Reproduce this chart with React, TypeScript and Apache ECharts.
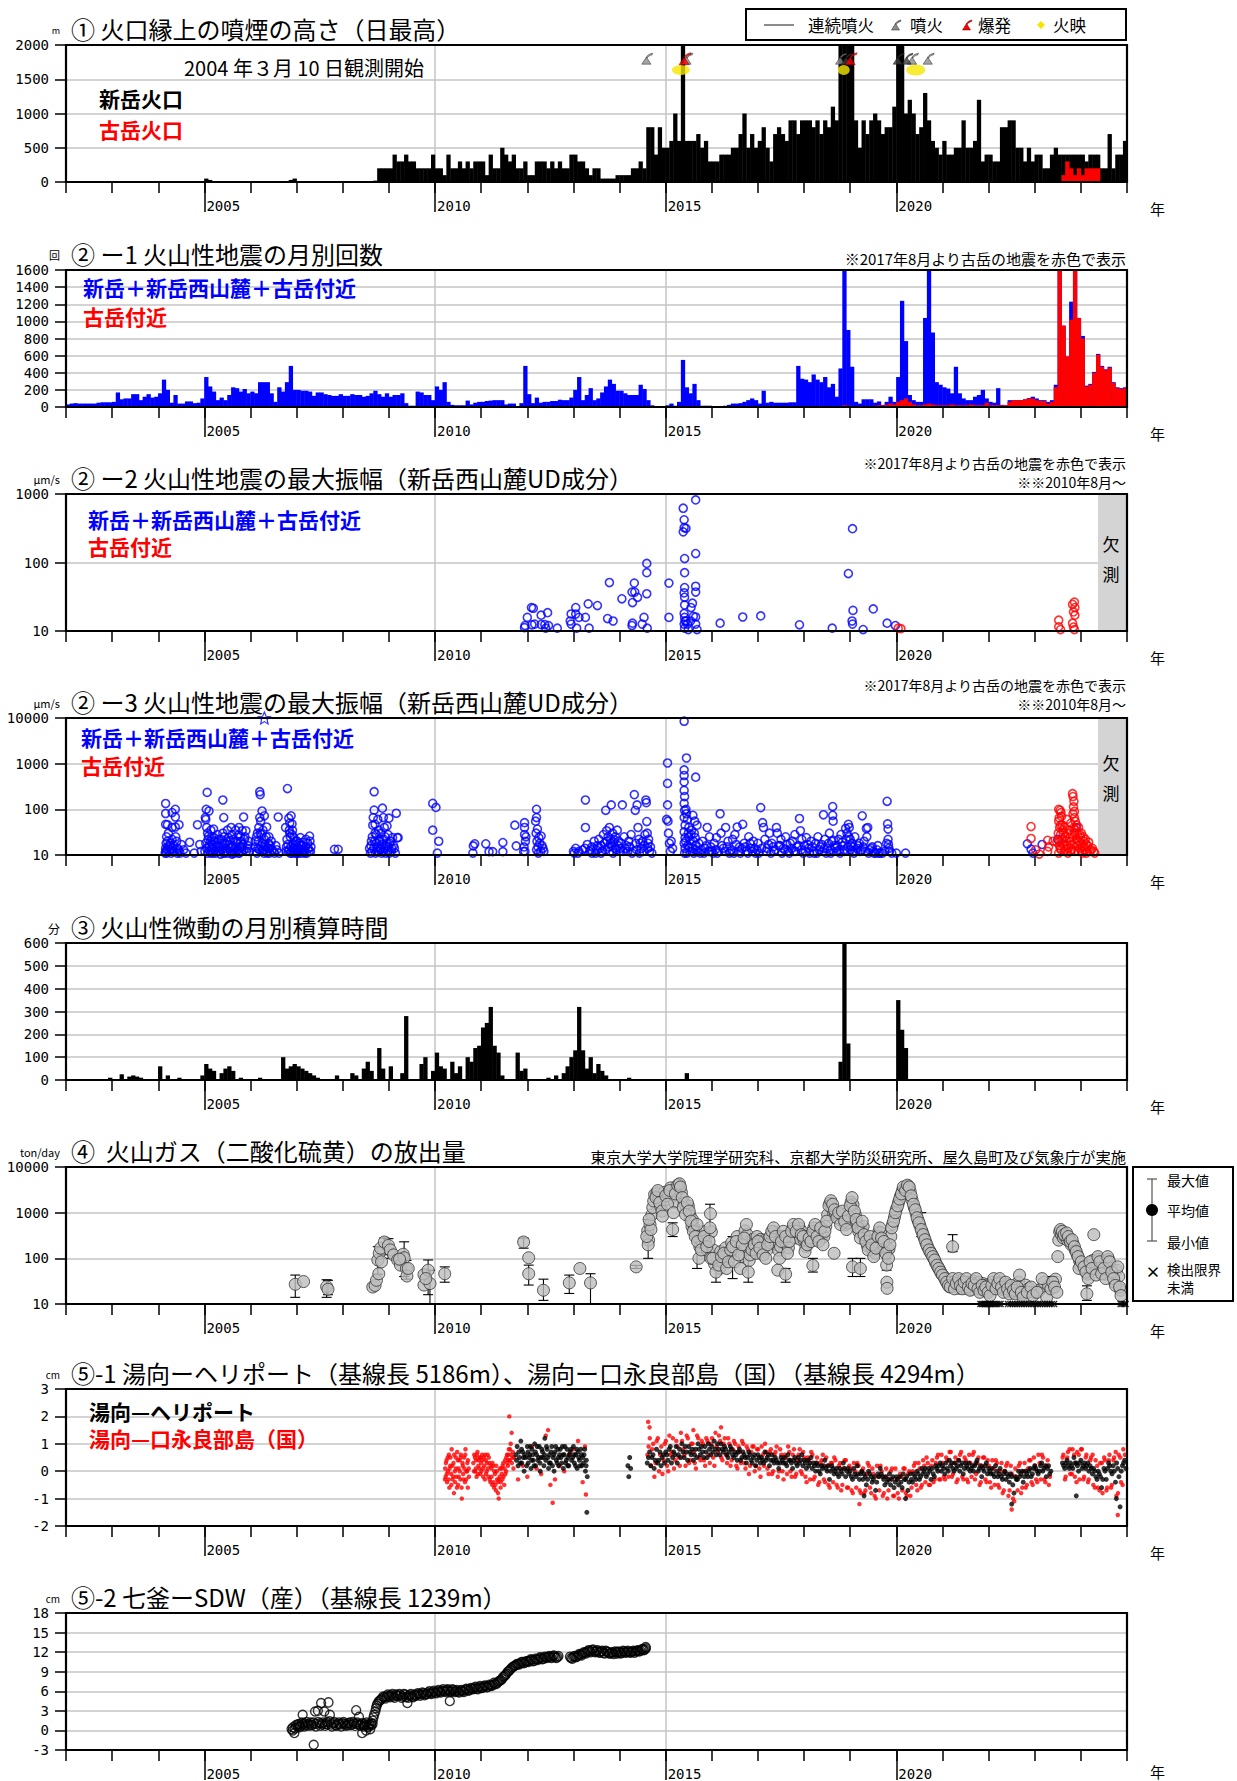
import React, { useEffect, useRef } from "react";
import * as echarts from "echarts";

const JP = '"Noto Sans CJK JP", "Noto Sans", sans-serif';
const MONO = '"DejaVu Sans Mono", monospace';

const YEAR_MIN = 2002;
const YEAR_MAX = 2025;
const LABEL_YEARS = [2005, 2010, 2015, 2020];

// ① plume height above the crater rim (m), monthly maximum
const plumeEarly: [number, number, number][] = [[2005, 1, 50], [2005, 2, 30], [2006, 11, 30], [2006, 12, 50]];
// from 2008-09
const plumeShindakeA = [
  20, 200, 200, 200,
  200, 400, 300, 300, 400, 300, 300, 200, 200, 200, 200, 400,
  200, 200, 100, 400, 200, 200, 300, 200, 300, 200, 300, 300,
  300, 100, 400, 200, 200, 500, 400, 300, 400, 200, 200, 300,
  100, 100, 300, 300, 300, 200, 300, 200, 300, 200, 200, 400,
  400, 300, 300, 200, 100, 200, 200, 50, 50, 50, 50, 100,
];
// from 2014-01
const plumeShindakeB = [
  100, 100, 100, 200, 200, 300, 200, 800, 800, 400, 800, 500,
  500, 600, 1000, 600, 2000, 600, 600, 600, 700, 500, 600, 300,
  300, 300, 400, 400, 400, 500, 500, 700, 1000, 500, 700, 500,
  600, 800, 500, 300, 700, 800, 700, 600, 900, 900, 700, 900,
  900, 900, 800, 900, 700, 900, 800, 1100, 900, 2000, 2000, 2000,
  2000, 900, 500, 900, 700, 900, 1000, 900, 700, 800, 800, 1100,
  2000, 2000, 1000, 1200, 1000, 700, 800, 1300, 900, 600, 500, 400,
  600, 400, 400, 500, 500, 900, 500, 500, 600, 1200, 300, 400,
  400, 300, 300, 800, 800, 900, 900, 500, 500, 300, 500, 300,
  400, 400, 200, 200, 400, 500, 400, 400, 400, 400, 400, 400,
  400, 300, 400, 400, 400, 200, 200, 700, 200, 400, 400, 600,
];
// Furudake crater, from 2023-08
const plumeFurudake = [100, 300, 200, 100, 200, 100, 200, 200, 200, 200, 10, 10, 10, 10, 10, 10, 10];
const eruptionMarks = [[2014.6, 1800], [2015.47, 1800], [2018.8, 1800], [2020.36, 1800], [2020.7, 1800]];
const eruptionMarksDark = [[2018.93, 1800], [2020.05, 1800], [2020.24, 1800]];
const explosionMarks = [[2015.42, 1800], [2019.02, 1800]];
const glowMarks = [[2015.33, 1635, 18, 10], [2018.86, 1635, 12, 10], [2020.42, 1635, 19, 11]];

// ②-1 monthly number of volcanic earthquakes
const quakeTotal2002to2009 = [
  30, 40, 45, 40, 40, 40, 40, 40, 50, 55, 55, 55,
  60, 170, 90, 100, 100, 150, 150, 80, 120, 150, 110, 120,
  160, 320, 200, 50, 140, 40, 40, 65, 65, 45, 50, 100,
  350, 240, 180, 80, 110, 80, 140, 230, 220, 180, 210, 160,
  180, 160, 290, 290, 290, 160, 60, 230, 180, 290, 480, 200,
  200, 190, 190, 180, 130, 170, 170, 150, 140, 130, 130, 150,
  130, 130, 150, 140, 140, 120, 130, 160, 190, 150, 120, 160,
  120, 140, 140, 160, 45, 15, 15, 180, 170, 140, 140, 80,
];
const quakeTotal2010to2017 = [
  240, 200, 290, 60, 25, 20, 20, 20, 75, 30, 50, 60,
  60, 70, 75, 80, 80, 80, 30, 40, 40, 10, 45, 480,
  150, 45, 110, 50, 60, 60, 70, 70, 85, 80, 80, 110,
  200, 350, 80, 140, 220, 80, 100, 170, 240, 320, 270, 190,
  190, 160, 140, 140, 140, 260, 210, 80, 20, 10, 10, 10,
  20, 40, 15, 60, 550, 230, 160, 270, 80, 15, 15, 15,
  10, 10, 10, 15, 25, 40, 40, 45, 60, 80, 100, 80,
  40, 190, 50, 60, 50, 50, 50, 50, 55, 55, 480, 330,
];
const quakeTotal2018to2024 = [
  320, 290, 380, 320, 290, 350, 230, 270, 120, 450, 1700, 900,
  470, 60, 40, 90, 90, 90, 50, 65, 25, 60, 120, 60,
  350, 1240, 770, 140, 80, 60, 60, 1040, 1700, 870, 290, 260,
  230, 215, 160, 470, 160, 100, 80, 80, 120, 140, 200, 100,
  60, 50, 220, 25, 20, 80, 80, 80, 80, 90, 105, 120,
  100, 80, 80, 60, 80, 260, 1700, 950, 590, 1230, 1700, 1040,
  830, 250, 270, 410, 620, 480, 440, 470, 290, 230, 220, 230,
];
// Furudake area, from 2017-08
const quakeFurudake = [
  5, 5, 5, 5, 10,
  10, 10, 10, 10, 10, 10, 10, 10, 10, 10, 20, 15,
  10, 10, 10, 10, 10, 10, 15, 20, 20, 25, 40, 30,
  60, 80, 100, 60, 30, 20, 20, 30, 40, 30, 20, 20,
  20, 20, 30, 20, 20, 20, 20, 30, 20, 20, 20, 50,
  20, 20, 20, 20, 20, 60, 80, 80, 80, 90, 100, 100,
  80, 70, 70, 40, 60, 230, 1700, 950, 590, 1020, 1700, 1040,
  800, 240, 260, 400, 610, 470, 430, 460, 280, 220, 210, 220,
];

// ②-2 maximum amplitude (μm/s), since 2010-08
const amp2Shindake = [
  [2011.94, 11.2], [2011.95, 12], [2012.0, 15.8], [2012.09, 22], [2012.13, 21.5], [2012.1, 12.3], [2012.16, 12.6],
  [2012.3, 17], [2012.3, 12.4], [2012.38, 12.4], [2012.44, 18.5], [2012.4, 11], [2012.46, 12], [2012.65, 11],
  [2012.95, 17.7], [2012.95, 12.6], [2012.93, 14], [2013.05, 22], [2013.05, 17.7], [2013.07, 11], [2013.12, 15.8],
  [2013.26, 15.8], [2013.32, 24.9], [2013.34, 11], [2013.52, 23.5], [2013.74, 15.2], [2013.78, 51], [2013.86, 14],
  [2014.05, 29.5], [2014.28, 26], [2014.27, 37], [2014.32, 50], [2014.33, 37], [2014.39, 31], [2014.28, 13],
  [2014.27, 12], [2014.49, 12.6], [2014.53, 15.8], [2014.59, 97], [2014.59, 71], [2014.59, 35], [2014.6, 11],
  [2015.07, 50], [2015.07, 15.8], [2015.38, 620], [2015.4, 420], [2015.4, 323], [2015.44, 315], [2015.38, 280],
  [2015.41, 114], [2015.41, 71], [2015.41, 43], [2015.4, 36], [2015.41, 31], [2015.41, 24], [2015.4, 18],
  [2015.41, 15.8], [2015.42, 14], [2015.4, 12.6], [2015.41, 11], [2015.44, 14], [2015.47, 12.6], [2015.49, 10.5],
  [2015.55, 22], [2015.58, 25.5], [2015.65, 820], [2015.65, 135], [2015.65, 45], [2015.65, 37], [2015.65, 16],
  [2015.65, 12.6], [2015.68, 10.5], [2015.6, 16.4], [2015.54, 14], [2016.18, 13], [2016.67, 16], [2017.06, 16.6],
  [2017.9, 12.3], [2018.61, 11], [2018.96, 69], [2019.05, 312], [2019.06, 20], [2019.04, 14], [2019.05, 12.6],
  [2019.28, 10.5], [2019.5, 21], [2019.8, 13], [2019.98, 12],
];
const amp2Furudake = [
  [2020.04, 11], [2020.1, 10.8], [2023.52, 14.4], [2023.52, 11.5], [2023.56, 10.5], [2023.82, 24.5], [2023.86, 26.4],
  [2023.87, 22], [2023.84, 19], [2023.87, 17], [2023.82, 13], [2023.84, 11.4], [2023.86, 10.5],
];

// ②-3 maximum amplitude (μm/s), whole period
const amp3Shindake = [
  [2004.16, 134], [2004.16, 81], [2004.16, 47], [2004.2, 46], [2004.18, 25], [2004.17, 18], [2004.16, 14], [2004.16, 12],
  [2004.18, 11], [2004.2, 20], [2004.22, 30], [2004.25, 16], [2004.27, 13], [2004.3, 85], [2004.3, 40], [2004.3, 22],
  [2004.32, 12], [2004.37, 100], [2004.37, 68], [2004.37, 41], [2004.4, 20], [2004.42, 14], [2004.45, 46], [2004.5, 17],
  [2004.55, 13], [2004.6, 11], [2004.68, 19], [2004.78, 11], [2004.85, 46], [2004.9, 17], [2004.93, 12],
  [2005.03, 60], [2005.06, 235], [2005.04, 100], [2005.1, 92], [2005.02, 66], [2005.05, 40], [2005.07, 30], [2005.08, 22],
  [2005.1, 16], [2005.12, 12], [2005.14, 35], [2005.16, 25], [2005.18, 14], [2005.2, 37], [2005.22, 20], [2005.25, 11],
  [2005.28, 28], [2005.3, 16], [2005.33, 12], [2005.36, 22], [2005.4, 160], [2005.42, 66], [2005.4, 30], [2005.45, 18],
  [2005.48, 12], [2005.5, 35], [2005.52, 24], [2005.55, 14], [2005.58, 40], [2005.6, 28], [2005.62, 16], [2005.65, 11],
  [2005.68, 35], [2005.7, 20], [2005.72, 13], [2005.75, 40], [2005.78, 25], [2005.8, 15], [2005.82, 34], [2005.85, 68],
  [2005.87, 22], [2005.9, 34], [2005.93, 14], [2005.96, 20], [2005.14, 11], [2005.26, 15], [2005.35, 10.5],
  [2005.44, 11], [2005.6, 10.5], [2005.76, 11],
  [2006.1, 20], [2006.15, 30], [2006.2, 243], [2006.21, 210], [2006.25, 92], [2006.2, 66], [2006.3, 72], [2006.35, 41],
  [2006.18, 40], [2006.22, 55], [2006.24, 28], [2006.26, 18], [2006.28, 13], [2006.3, 22], [2006.33, 15], [2006.36, 11],
  [2006.4, 25], [2006.42, 14], [2006.45, 20], [2006.5, 12], [2006.55, 16], [2006.6, 68], [2006.62, 11], [2006.12, 12],
  [2006.16, 14],
  [2006.76, 40], [2006.8, 285], [2006.83, 64], [2006.85, 50], [2006.84, 35], [2006.86, 25], [2006.88, 72], [2006.9, 48],
  [2006.9, 28], [2006.92, 18], [2006.94, 24], [2006.96, 13], [2006.98, 20], [2007.0, 15], [2007.02, 11], [2007.05, 18],
  [2007.08, 24], [2007.1, 13], [2007.12, 16], [2007.15, 12], [2007.2, 22], [2007.25, 14], [2007.28, 26], [2007.29, 20],
  [2007.3, 12], [2006.78, 15], [2006.82, 12], [2006.86, 11], [2006.92, 12], [2007.0, 11], [2007.18, 11],
  [2007.82, 13.3], [2007.9, 13.3],
  [2008.58, 14], [2008.62, 20], [2008.65, 45], [2008.68, 243], [2008.68, 96], [2008.66, 66], [2008.7, 47], [2008.7, 30],
  [2008.72, 18], [2008.74, 12], [2008.76, 60], [2008.78, 35], [2008.8, 22], [2008.82, 14], [2008.86, 106], [2008.88, 66],
  [2008.9, 40], [2008.92, 25], [2008.94, 16], [2008.96, 43], [2008.98, 28], [2009.0, 64], [2009.02, 18], [2009.05, 12],
  [2009.08, 24], [2009.12, 14], [2009.16, 82], [2009.18, 24], [2009.2, 24], [2008.6, 11], [2008.84, 11],
  [2009.95, 135], [2010.02, 110], [2009.95, 35], [2010.08, 20], [2010.05, 11],
  [2010.83, 15.8], [2010.86, 17.6], [2011.1, 17.6], [2011.17, 11.8], [2011.25, 11.8], [2011.47, 18.7], [2011.47, 11.8],
  [2010.82, 11],
  [2011.73, 45], [2011.76, 15.8], [2011.94, 51], [2011.94, 40], [2011.94, 28], [2011.96, 20], [2011.93, 15], [2011.95, 12],
  [2012.2, 100], [2012.2, 66], [2012.18, 55], [2012.22, 37], [2012.25, 24], [2012.3, 26], [2012.32, 16], [2012.36, 12],
  [2012.2, 13], [2012.24, 11],
  [2013.26, 160], [2013.26, 40], [2013.0, 12], [2013.05, 14], [2013.1, 11], [2013.2, 13], [2013.3, 17], [2013.35, 12],
  [2013.4, 15], [2013.45, 20], [2013.5, 13], [2013.55, 22], [2013.6, 16], [2013.65, 28], [2013.7, 95], [2013.72, 34],
  [2013.75, 25], [2013.78, 40], [2013.8, 18], [2013.82, 125], [2013.85, 30], [2013.88, 22], [2013.9, 14], [2013.95, 35],
  [2013.98, 20], [2013.6, 11], [2013.4, 11],
  [2014.06, 125], [2014.1, 25], [2014.15, 16], [2014.2, 20], [2014.25, 28], [2014.32, 210], [2014.34, 95], [2014.38, 125],
  [2014.4, 40], [2014.42, 22], [2014.45, 18], [2014.5, 20], [2014.55, 28], [2014.57, 160], [2014.58, 140], [2014.59, 54],
  [2014.6, 30], [2014.62, 18], [2014.65, 12], [2014.7, 11], [2014.02, 14], [2014.08, 12], [2014.3, 12],
  [2015.04, 1035], [2015.04, 370], [2015.04, 125], [2015.02, 60], [2015.05, 55], [2015.06, 30], [2015.08, 18],
  [2015.1, 12], [2015.12, 20], [2015.15, 14],
  [2015.4, 8500], [2015.45, 1330], [2015.4, 730], [2015.4, 550], [2015.4, 395], [2015.4, 260], [2015.41, 190],
  [2015.4, 135], [2015.41, 95], [2015.4, 66], [2015.42, 45], [2015.4, 32], [2015.42, 24], [2015.4, 18], [2015.42, 14],
  [2015.41, 11], [2015.65, 505], [2015.59, 74], [2015.63, 55], [2015.5, 40], [2015.55, 28], [2015.6, 20], [2015.48, 16],
  [2015.52, 12], [2015.58, 14], [2015.65, 16], [2015.7, 12], [2015.45, 80], [2015.47, 60], [2015.5, 25], [2015.56, 35],
  [2015.62, 30], [2015.68, 45], [2015.44, 100],
  [2015.8, 20], [2015.85, 14], [2015.9, 40], [2015.95, 25], [2016.0, 12], [2016.05, 18], [2016.1, 24], [2016.18, 80],
  [2016.2, 30], [2016.25, 14], [2016.3, 40], [2016.35, 20], [2016.4, 12], [2016.45, 22], [2016.5, 28], [2016.55, 41],
  [2016.6, 15], [2016.67, 47], [2016.7, 18], [2016.75, 12], [2016.8, 25], [2016.85, 14], [2016.9, 20], [2016.95, 11],
  [2017.0, 18], [2017.06, 109], [2017.1, 51], [2017.12, 40], [2017.15, 22], [2017.2, 14], [2017.25, 30], [2017.3, 18],
  [2017.35, 12], [2017.4, 40], [2017.42, 30], [2017.45, 16], [2017.5, 22], [2017.55, 14], [2017.6, 25], [2017.65, 12],
  [2017.7, 18], [2017.75, 20], [2017.8, 28], [2017.85, 15], [2017.9, 63], [2017.92, 34], [2017.95, 22], [2018.0, 16],
  [2018.05, 24], [2018.1, 14], [2018.15, 20], [2018.2, 12], [2018.25, 18], [2018.3, 25], [2018.35, 15], [2018.42, 76],
  [2018.45, 22], [2018.5, 14], [2018.55, 30], [2018.6, 20], [2018.62, 115], [2018.62, 74], [2018.63, 55], [2018.66, 16],
  [2018.7, 12], [2018.75, 22], [2018.8, 28], [2018.85, 16], [2018.9, 38], [2018.93, 30], [2018.96, 47], [2018.98, 40],
  [2019.0, 22], [2019.02, 16], [2019.05, 12], [2019.1, 25], [2019.15, 14], [2019.2, 18], [2019.26, 72], [2019.3, 20],
  [2019.35, 38], [2019.38, 40], [2019.45, 14], [2019.5, 12], [2019.6, 16], [2019.7, 11], [2019.8, 150], [2019.81, 48],
  [2019.82, 37], [2019.82, 22], [2019.83, 17], [2019.85, 12], [2019.9, 11], [2020.0, 11], [2020.2, 11],
  [2015.75, 11], [2015.95, 12], [2016.12, 11], [2016.38, 11], [2016.62, 11], [2016.88, 12], [2017.02, 11], [2017.28, 11],
  [2017.52, 11], [2017.68, 11], [2017.82, 12], [2017.98, 11], [2018.12, 11], [2018.28, 11], [2018.4, 12], [2018.48, 11],
  [2018.58, 11], [2018.78, 11], [2018.88, 12], [2019.08, 11], [2019.22, 12], [2019.4, 11], [2019.55, 11], [2019.65, 11],
  [2022.84, 17.6], [2022.92, 13.4], [2022.96, 11], [2023.16, 17], [2023.5, 22], [2023.9, 40],
];
// the crowded lower band of ②-3
const amp3ShindakeLow = [
  [2004.15, 11], [2004.19, 13], [2004.21, 15], [2004.23, 12], [2004.26, 18], [2004.28, 11], [2004.31, 14], [2004.33, 16],
  [2004.35, 12], [2004.38, 25], [2004.41, 11], [2004.44, 13], [2004.47, 11],
  [2005.01, 12], [2005.03, 18], [2005.05, 14], [2005.07, 11], [2005.09, 26], [2005.11, 15], [2005.13, 20], [2005.15, 13],
  [2005.17, 17], [2005.19, 11], [2005.21, 24], [2005.23, 13], [2005.27, 19], [2005.29, 12], [2005.31, 22], [2005.34, 15],
  [2005.37, 13], [2005.39, 18], [2005.41, 11], [2005.43, 25], [2005.46, 14], [2005.49, 20], [2005.51, 11], [2005.53, 17],
  [2005.56, 21], [2005.57, 12], [2005.59, 15], [2005.61, 11], [2005.63, 22], [2005.66, 14], [2005.69, 12], [2005.71, 18],
  [2005.73, 27], [2005.74, 11], [2005.77, 15], [2005.79, 20], [2005.81, 12], [2005.83, 17], [2005.86, 13], [2005.88, 25],
  [2005.91, 12], [2005.94, 16], [2005.97, 12],
  [2006.11, 15], [2006.13, 25], [2006.14, 11], [2006.17, 20], [2006.19, 13], [2006.21, 30], [2006.23, 16], [2006.25, 12],
  [2006.27, 35], [2006.29, 11], [2006.31, 17], [2006.32, 13], [2006.34, 25], [2006.37, 14], [2006.39, 18], [2006.41, 11],
  [2006.43, 16], [2006.47, 13], [2006.52, 11], [2006.57, 13],
  [2006.77, 12], [2006.79, 22], [2006.81, 17], [2006.83, 13], [2006.85, 30], [2006.87, 15], [2006.89, 11], [2006.91, 35],
  [2006.93, 14], [2006.95, 11], [2006.97, 17], [2006.99, 13], [2007.01, 20], [2007.03, 14], [2007.04, 11], [2007.06, 13],
  [2007.09, 16], [2007.11, 11], [2007.14, 19], [2007.16, 13], [2007.19, 15], [2007.22, 11], [2007.24, 18], [2007.27, 12],
  [2007.31, 15],
  [2008.61, 16], [2008.63, 12], [2008.64, 25], [2008.67, 14], [2008.69, 20], [2008.71, 11], [2008.73, 28], [2008.75, 15],
  [2008.77, 12], [2008.79, 20], [2008.81, 13], [2008.83, 30], [2008.85, 17], [2008.87, 12], [2008.89, 22], [2008.91, 14],
  [2008.93, 11], [2008.95, 18], [2008.97, 12], [2008.99, 15], [2009.01, 11], [2009.03, 20], [2009.06, 14], [2009.1, 16],
  [2009.14, 11],
  [2011.92, 12], [2011.97, 25], [2012.19, 30], [2012.21, 20], [2012.23, 15], [2012.27, 18], [2012.29, 12], [2012.34, 14],
  [2013.02, 11], [2013.12, 12], [2013.25, 14], [2013.38, 13], [2013.48, 11], [2013.52, 16], [2013.58, 14], [2013.62, 12],
  [2013.67, 18], [2013.69, 13], [2013.73, 20], [2013.77, 15], [2013.79, 12], [2013.81, 22], [2013.83, 16], [2013.86, 11],
  [2013.87, 19], [2013.91, 25], [2013.93, 13], [2013.97, 16], [2014.0, 12], [2014.04, 18], [2014.12, 14], [2014.18, 12],
  [2014.22, 15], [2014.27, 11], [2014.35, 18], [2014.37, 13], [2014.43, 11], [2014.47, 14], [2014.52, 12], [2014.54, 16],
  [2014.61, 14], [2014.63, 22], [2014.67, 15],
  [2015.43, 20], [2015.46, 11], [2015.49, 30], [2015.51, 15], [2015.53, 21], [2015.57, 12], [2015.61, 11], [2015.64, 24],
  [2015.66, 13], [2015.72, 18], [2015.78, 13], [2015.83, 11], [2015.88, 16], [2015.93, 12], [2015.98, 15], [2016.03, 11],
  [2016.08, 13], [2016.15, 12], [2016.22, 16], [2016.28, 12], [2016.33, 15], [2016.43, 13], [2016.48, 11], [2016.53, 17],
  [2016.58, 12], [2016.65, 14], [2016.73, 15], [2016.78, 11], [2016.83, 18], [2016.93, 14], [2016.98, 13], [2017.08, 14],
  [2017.18, 12], [2017.23, 17], [2017.33, 15], [2017.38, 13], [2017.48, 16], [2017.58, 13], [2017.63, 17], [2017.73, 14],
  [2017.78, 12], [2017.88, 16], [2017.94, 13], [2018.03, 12], [2018.08, 17], [2018.18, 15], [2018.22, 11], [2018.33, 13],
  [2018.38, 17], [2018.44, 14], [2018.53, 18], [2018.57, 13], [2018.64, 21], [2018.68, 14], [2018.72, 16], [2018.77, 13],
  [2018.83, 19], [2018.87, 13], [2018.91, 22], [2018.95, 15], [2018.97, 25], [2019.01, 13], [2019.04, 18], [2019.07, 15],
  [2019.12, 12], [2019.17, 16], [2019.24, 13], [2019.28, 15], [2019.33, 12], [2019.36, 25], [2019.42, 13], [2019.48, 15],
  [2019.52, 11], [2019.58, 13], [2019.62, 11], [2019.75, 12], [2019.79, 18], [2019.84, 14],
];
const amp3Furudake = [
  [2022.92, 42], [2022.92, 23], [2023.02, 13], [2023.28, 21], [2023.3, 15], [2023.28, 12], [2023.4, 20], [2023.48, 19],
  [2023.1, 10.5], [2023.52, 100], [2023.55, 95], [2023.52, 55], [2023.54, 40], [2023.56, 28], [2023.53, 20],
  [2023.55, 14], [2023.52, 11], [2023.58, 70], [2023.6, 45], [2023.62, 30], [2023.6, 18], [2023.64, 12], [2023.66, 25],
  [2023.7, 16], [2023.72, 11], [2023.75, 35], [2023.78, 20], [2023.8, 13], [2023.82, 220], [2023.83, 190],
  [2023.84, 113], [2023.86, 66], [2023.88, 55], [2023.85, 40], [2023.87, 30], [2023.9, 22], [2023.92, 16],
  [2023.86, 12], [2023.95, 40], [2023.98, 28], [2024.0, 18], [2024.02, 12], [2024.05, 25], [2024.08, 15], [2024.1, 22],
  [2024.12, 11], [2024.15, 16], [2024.2, 12], [2024.25, 14], [2024.3, 11], [2023.7, 60], [2023.57, 85], [2023.78, 50],
  [2023.51, 30], [2023.53, 65], [2023.54, 16], [2023.56, 45], [2023.57, 13], [2023.59, 22], [2023.61, 35], [2023.63, 16],
  [2023.65, 40], [2023.67, 13], [2023.69, 20], [2023.71, 30], [2023.73, 14], [2023.76, 24], [2023.77, 12], [2023.79, 17],
  [2023.81, 28], [2023.83, 80], [2023.85, 150], [2023.86, 90], [2023.88, 35], [2023.89, 18], [2023.91, 45], [2023.93, 28],
  [2023.94, 12], [2023.96, 20], [2023.97, 14], [2023.99, 24], [2024.01, 30], [2024.03, 15], [2024.04, 11], [2024.07, 20],
  [2024.09, 13], [2024.11, 17], [2024.14, 12], [2024.17, 19], [2024.22, 13], [2024.28, 12],
];
const amp3Largest = [[2006.3, 10000]];

// ③ monthly total duration of volcanic tremor (minutes)
const tremorMinutes: [string, number][] = [
  ["2002-12", 10], ["2003-03", 25], ["2003-05", 15], ["2003-06", 20], ["2003-07", 15], ["2003-08", 10],
  ["2004-01", 60], ["2004-03", 20], ["2004-06", 10], ["2004-12", 20], ["2005-01", 70], ["2005-02", 50],
  ["2005-03", 40], ["2005-05", 30], ["2005-06", 50], ["2005-07", 60], ["2005-08", 40], ["2005-10", 10],
  ["2006-03", 10], ["2006-09", 100], ["2006-10", 50], ["2006-11", 60], ["2006-12", 70], ["2007-01", 60],
  ["2007-02", 50], ["2007-03", 40], ["2007-04", 30], ["2007-05", 20], ["2007-06", 10], ["2007-11", 20],
  ["2008-03", 30], ["2008-04", 20], ["2008-06", 50], ["2008-07", 80], ["2008-08", 40], ["2008-10", 140],
  ["2008-11", 50], ["2009-01", 60], ["2009-04", 30], ["2009-05", 280], ["2009-09", 70], ["2009-10", 100],
  ["2009-12", 40], ["2010-01", 120], ["2010-02", 60], ["2010-03", 50], ["2010-05", 80], ["2010-06", 30],
  ["2010-07", 60], ["2010-09", 100], ["2010-10", 80], ["2010-11", 140], ["2010-12", 150], ["2011-01", 230],
  ["2011-02", 250], ["2011-03", 320], ["2011-04", 150], ["2011-05", 120], ["2011-06", 20], ["2011-10", 120],
  ["2011-11", 40], ["2011-12", 50], ["2012-06", 10], ["2012-08", 20], ["2012-10", 30], ["2012-11", 60],
  ["2012-12", 100], ["2013-01", 130], ["2013-02", 320], ["2013-03", 130], ["2013-04", 50], ["2013-05", 100],
  ["2013-06", 30], ["2013-07", 70], ["2013-08", 40], ["2013-09", 20], ["2014-03", 10], ["2015-06", 30],
  ["2018-10", 80], ["2018-11", 600], ["2018-12", 160], ["2020-01", 350], ["2020-02", 220], ["2020-03", 140],
];

// ④ SO2 emission (ton/day)
const so2Mean = [
  [2006.97, 27], [2007.15, 31], [2007.65, 24], [2007.68, 21], [2008.65, 23.5], [2008.7, 25.5], [2008.73, 33],
  [2008.78, 46], [2008.76, 92], [2008.79, 130], [2008.82, 167], [2008.9, 228], [2008.99, 191], [2009.03, 153],
  [2009.1, 119], [2009.19, 92], [2009.25, 71], [2009.31, 123], [2009.33, 103], [2009.38, 60], [2009.39, 41],
  [2009.42, 60], [2009.23, 96], [2008.84, 84], [2009.76, 44], [2009.85, 55], [2009.76, 26], [2009.89, 28],
  [2009.8, 36], [2010.21, 46], [2011.92, 228], [2012.03, 103], [2012.03, 46], [2012.35, 20], [2012.91, 29],
  [2013.14, 60], [2013.37, 29],
  [2014.36, 65], [2014.62, 198], [2014.59, 300], [2014.68, 427], [2014.64, 710], [2014.79, 2140], [2014.83, 3050],
  [2014.87, 1660], [2014.92, 1080], [2014.93, 840], [2015.0, 2340], [2015.04, 1530], [2015.09, 3050], [2015.15, 427],
  [2015.17, 1000], [2015.21, 2580], [2015.26, 4000], [2015.3, 4300], [2015.32, 3650], [2015.36, 2140], [2015.38, 1290],
  [2015.43, 910], [2015.47, 1660], [2015.51, 1080], [2015.55, 650], [2015.6, 390], [2015.64, 300], [2015.68, 550],
  [2015.69, 234], [2015.72, 100], [2015.77, 153], [2015.83, 300], [2015.89, 180], [2015.94, 234], [2015.96, 465],
  [2015.97, 950], [2015.98, 100], [2016.02, 100], [2016.09, 50], [2016.15, 71], [2016.21, 109], [2016.26, 129],
  [2016.32, 60], [2016.36, 84], [2016.41, 153], [2016.45, 180], [2016.49, 84], [2016.53, 234], [2016.58, 119],
  [2016.62, 60], [2016.66, 198], [2016.7, 278], [2016.75, 550], [2016.79, 50], [2016.83, 119], [2016.87, 153],
  [2016.92, 198], [2016.96, 129], [2017.0, 234], [2017.04, 167], [2017.11, 119], [2017.17, 100], [2017.21, 198],
  [2017.26, 300], [2017.3, 390], [2017.34, 465], [2017.38, 300], [2017.43, 55], [2017.47, 100], [2017.51, 234],
  [2017.55, 390], [2017.6, 300], [2017.64, 129], [2017.68, 234], [2017.73, 390], [2017.77, 550], [2017.83, 390],
  [2017.88, 550], [2017.94, 330], [2017.98, 300], [2018.02, 140], [2018.07, 198], [2018.11, 278], [2018.15, 234],
  [2018.19, 390], [2018.24, 550], [2018.28, 300], [2018.32, 234], [2018.36, 465], [2018.41, 198], [2018.45, 390],
  [2018.49, 650], [2018.54, 1410], [2018.58, 1830], [2018.62, 1530], [2018.65, 129], [2018.66, 1160], [2018.71, 775],
  [2018.75, 1000], [2018.79, 550], [2018.83, 1080], [2018.88, 650], [2018.92, 427], [2018.96, 840], [2019.0, 1410],
  [2019.04, 2140], [2019.09, 1080], [2019.13, 710], [2019.17, 465], [2019.22, 278], [2019.26, 650], [2019.3, 330],
  [2019.34, 234], [2019.39, 153], [2019.43, 300], [2019.47, 198], [2019.51, 109], [2019.56, 167], [2019.6, 300],
  [2019.64, 465], [2019.68, 278], [2019.73, 234], [2019.77, 129], [2019.79, 71], [2019.795, 30], [2019.8, 22],
  [2019.83, 100], [2019.86, 198], [2019.9, 465], [2019.94, 650], [2019.98, 1000], [2020.03, 1410], [2020.07, 1980],
  [2020.11, 2580], [2020.15, 3650], [2020.2, 3050], [2020.24, 4000], [2020.28, 3650], [2020.32, 2340], [2020.37, 1530],
  [2020.41, 1160], [2020.45, 775], [2020.49, 600], [2020.54, 427], [2020.58, 330], [2020.62, 256], [2020.66, 198],
  [2020.71, 153], [2020.75, 129], [2020.79, 109], [2020.83, 92], [2020.88, 71], [2020.92, 60], [2020.96, 50],
  [2021.0, 43], [2021.05, 36], [2021.09, 30], [2021.13, 25.5], [2021.17, 23.5], [2021.22, 180], [2021.22, 36],
  [2021.26, 21.5], [2021.3, 28], [2021.35, 36], [2021.39, 25.5], [2021.43, 21.5], [2021.47, 30], [2021.52, 36],
  [2021.56, 23.5], [2021.6, 20], [2021.64, 28], [2021.69, 25.5], [2021.73, 36], [2021.77, 21.5], [2021.81, 18],
  [2021.86, 25.5], [2021.9, 20], [2021.94, 23.5], [2021.99, 18], [2022.03, 15.3], [2022.07, 25.5], [2022.11, 36],
  [2022.16, 21.5], [2022.2, 28], [2022.24, 36], [2022.28, 23.5], [2022.32, 18], [2022.37, 30], [2022.41, 21.5],
  [2022.45, 16.7], [2022.49, 25.5], [2022.54, 20], [2022.58, 16.7], [2022.62, 23.5], [2022.67, 43], [2022.71, 18],
  [2022.75, 14], [2022.84, 18], [2022.92, 23.5], [2022.96, 15.3], [2023.05, 18], [2023.16, 36], [2023.26, 14],
  [2023.35, 21.5], [2023.39, 30], [2023.43, 23.5], [2023.48, 18],
  [2023.5, 109], [2023.56, 427], [2023.6, 390], [2023.64, 330], [2023.69, 360], [2023.73, 300], [2023.77, 234],
  [2023.81, 256], [2023.86, 180], [2023.9, 140], [2023.94, 109], [2023.96, 60], [2024.01, 84], [2024.07, 65],
  [2024.11, 50], [2024.13, 16.7], [2024.16, 36], [2024.2, 84], [2024.24, 60], [2024.28, 330], [2024.33, 43],
  [2024.37, 109], [2024.41, 84], [2024.45, 46], [2024.5, 60], [2024.54, 36], [2024.58, 109], [2024.62, 84],
  [2024.67, 50], [2024.71, 36], [2024.75, 25.5], [2024.8, 65], [2024.84, 23.5], [2024.87, 15.3],
  [2017.6, 45], [2018.19, 70], [2019.05, 65], [2019.22, 60],
];
// additional survey days from 2014 on
const so2MeanLater = [
  [2014.61, 400], [2014.63, 250], [2014.66, 550], [2014.7, 900], [2014.72, 1300], [2014.74, 1800], [2014.76, 2500],
  [2014.81, 2700], [2014.85, 2000], [2014.89, 1400], [2014.95, 1900], [2014.97, 2800],
  [2015.02, 1900], [2015.06, 2600], [2015.11, 3500], [2015.13, 2200], [2015.19, 1700], [2015.23, 3300], [2015.24, 2900],
  [2015.28, 4100], [2015.34, 2800], [2015.4, 1600], [2015.45, 1200], [2015.49, 1400], [2015.53, 850], [2015.57, 500],
  [2015.58, 700], [2015.62, 460], [2015.66, 380], [2015.7, 300], [2015.74, 180], [2015.79, 220], [2015.81, 380],
  [2015.86, 240], [2015.91, 150], [2015.99, 380],
  [2016.04, 150], [2016.06, 75], [2016.12, 90], [2016.17, 60], [2016.19, 140], [2016.23, 85], [2016.28, 100],
  [2016.3, 170], [2016.34, 130], [2016.38, 110], [2016.43, 220], [2016.47, 130], [2016.51, 160], [2016.55, 300],
  [2016.6, 160], [2016.64, 110], [2016.68, 230], [2016.72, 400], [2016.73, 180], [2016.77, 330], [2016.81, 90],
  [2016.85, 200], [2016.89, 260], [2016.94, 160], [2016.98, 300],
  [2017.02, 200], [2017.06, 260], [2017.08, 140], [2017.13, 180], [2017.15, 250], [2017.19, 150], [2017.23, 260],
  [2017.28, 220], [2017.32, 300], [2017.36, 380], [2017.4, 200], [2017.45, 150], [2017.49, 180], [2017.53, 300],
  [2017.57, 250], [2017.62, 200], [2017.66, 170], [2017.7, 300], [2017.75, 450], [2017.79, 400], [2017.81, 280],
  [2017.86, 420], [2017.9, 460], [2017.92, 260], [2017.96, 380],
  [2018.0, 250], [2018.04, 180], [2018.09, 230], [2018.13, 320], [2018.17, 300], [2018.21, 460], [2018.26, 380],
  [2018.3, 260], [2018.34, 330], [2018.38, 280], [2018.43, 300], [2018.47, 500], [2018.51, 900], [2018.56, 1600],
  [2018.6, 1300], [2018.64, 1000], [2018.68, 950], [2018.73, 850], [2018.77, 700], [2018.81, 800], [2018.86, 900],
  [2018.9, 540], [2018.94, 600], [2018.98, 1100],
  [2019.02, 1700], [2019.06, 1500], [2019.11, 900], [2019.15, 560], [2019.19, 380], [2019.24, 420], [2019.28, 500],
  [2019.32, 270], [2019.37, 190], [2019.41, 230], [2019.45, 250], [2019.49, 150], [2019.54, 130], [2019.58, 230],
  [2019.62, 380], [2019.66, 360], [2019.7, 260], [2019.75, 170], [2019.81, 150], [2019.84, 160], [2019.88, 300],
  [2019.92, 560], [2019.96, 800],
  [2020.0, 1200], [2020.05, 1700], [2020.09, 2300], [2020.13, 3000], [2020.17, 3300], [2020.22, 3700], [2020.26, 3800],
  [2020.3, 2900], [2020.34, 1900], [2020.39, 1300], [2020.43, 950], [2020.47, 680], [2020.51, 520], [2020.56, 380],
  [2020.6, 290], [2020.64, 220], [2020.68, 175], [2020.73, 140], [2020.77, 120], [2020.81, 100], [2020.85, 80],
  [2020.9, 65], [2020.94, 55], [2020.98, 46],
  [2021.03, 40], [2021.07, 33], [2021.11, 28], [2021.15, 24], [2021.2, 30], [2021.24, 25], [2021.28, 32], [2021.33, 27],
  [2021.37, 22], [2021.41, 33], [2021.45, 26], [2021.5, 22], [2021.54, 30], [2021.58, 25], [2021.62, 21], [2021.66, 32],
  [2021.71, 28], [2021.75, 23], [2021.79, 30], [2021.84, 21], [2021.88, 28], [2021.92, 22], [2021.96, 26],
  [2022.01, 20], [2022.05, 22], [2022.09, 30], [2022.13, 26], [2022.18, 24], [2022.22, 31], [2022.26, 28], [2022.3, 21],
  [2022.35, 25], [2022.39, 27], [2022.43, 19], [2022.47, 22], [2022.52, 18], [2022.56, 21], [2022.6, 20], [2022.65, 30],
  [2022.69, 24], [2022.73, 16], [2022.78, 20], [2022.8, 26], [2022.88, 22], [2022.98, 18], [2023.1, 20], [2023.2, 30],
  [2023.3, 25], [2023.45, 35],
  [2023.52, 250], [2023.54, 380], [2023.58, 330], [2023.62, 280], [2023.66, 300], [2023.71, 250], [2023.75, 270],
  [2023.79, 200], [2023.83, 210], [2023.88, 150], [2023.92, 120], [2023.97, 90], [2023.99, 70], [2024.04, 75],
  [2024.09, 55], [2024.14, 45], [2024.18, 70], [2024.22, 55], [2024.26, 90], [2024.3, 60], [2024.35, 75], [2024.39, 95],
  [2024.43, 55], [2024.47, 70], [2024.52, 45], [2024.56, 80], [2024.6, 95], [2024.65, 60], [2024.69, 42], [2024.73, 30],
  [2024.77, 55], [2024.82, 40], [2024.86, 20],
];
const so2Range = [
  [2006.97, 14, 43], [2007.65, 14, 34], [2007.68, 16, 33], [2008.76, 45, 180], [2008.9, 120, 280],
  [2008.99, 100, 270], [2009.33, 40, 230], [2009.38, 35, 90], [2009.85, 16, 92], [2009.89, 10, 55],
  [2010.21, 30, 65], [2011.92, 167, 278], [2012.03, 26, 71], [2012.35, 12, 35], [2012.91, 17, 43],
  [2013.37, 10, 46], [2014.36, 60, 70], [2014.62, 100, 710], [2015.15, 300, 600], [2015.68, 60, 427],
  [2015.96, 300, 1530], [2016.09, 30, 60], [2016.45, 36, 300], [2016.79, 30, 300], [2017.6, 30, 60],
  [2018.19, 50, 100], [2019.05, 40, 100], [2019.22, 40, 100], [2019.79, 55, 100], [2020.54, 300, 1000],
  [2021.22, 140, 330], [2023.39, 20, 40], [2024.13, 12, 25],
];
const so2BelowLimit = [
  2021.82, 2021.85, 2021.87, 2021.9, 2021.92, 2021.95, 2021.98, 2022.0, 2022.03, 2022.06, 2022.1, 2022.14,
  2022.18, 2022.22, 2022.26, 2022.42, 2022.47, 2022.52, 2022.57, 2022.62, 2022.67, 2022.72, 2022.77, 2022.82,
  2022.87, 2022.92, 2022.97, 2023.02, 2023.07, 2023.12, 2023.17, 2023.22, 2023.27, 2023.32, 2023.37, 2023.42,
  2024.86, 2024.9, 2024.94, 2024.97,
];

// ⑤-1 GNSS baseline change (cm)
const gnssHeliport = [
  [2011.75, 0.6], [2011.78, 0.9], [2011.8, 0.2], [2011.83, 0.5], [2011.86, 1.1], [2011.88, 0.3], [2011.9, 0.7],
  [2011.93, 0.0], [2011.96, 0.5], [2012.0, 0.9], [2012.02, 0.3], [2012.05, 0.6], [2012.08, 0.1], [2012.1, 0.8],
  [2012.13, 0.4], [2012.16, 1.0], [2012.18, 0.2], [2012.2, 0.6], [2012.23, 0.4], [2012.26, 0.9], [2012.28, 0.0],
  [2012.3, 0.5], [2012.33, 0.7], [2012.36, 0.2], [2012.38, 1.2], [2012.4, 0.4], [2012.43, 0.8], [2012.46, 0.1],
  [2012.48, 0.6], [2012.5, 0.3], [2012.53, 0.9], [2012.56, 0.5], [2012.58, 0.0], [2012.6, 0.7], [2012.63, 0.4],
  [2012.66, 0.8], [2012.68, 0.2], [2012.7, 0.6], [2012.73, 0.5], [2012.76, 0.9], [2012.78, 0.1], [2012.8, 0.6],
  [2012.83, 0.3], [2012.86, 0.8], [2012.88, 0.5], [2012.9, 0.2], [2012.93, 0.7], [2012.96, 0.4], [2013.0, 0.9],
  [2013.02, 0.3], [2013.05, 0.6], [2013.08, 0.1], [2013.1, 0.7], [2013.13, 0.4], [2013.16, 0.8], [2013.18, 0.2],
  [2013.2, 0.5], [2013.23, 0.6], [2013.26, 0.0], [2013.28, 0.4], [2013.3, -0.2], [2013.29, -1.5],
  [2014.18, 0.2], [2014.2, -0.2], [2014.22, 0.5], [2014.24, 0.1],
  [2014.6, 0.3], [2014.65, 0.7], [2014.7, 0.5], [2014.75, 0.1], [2014.8, 0.8], [2014.85, 0.4], [2014.9, 0.2],
  [2014.95, 0.6], [2015.0, 0.7], [2015.05, 0.4], [2015.1, 0.9], [2015.15, 0.5], [2015.2, 0.6], [2015.25, 0.3],
  [2015.3, 0.8], [2015.35, 1.0], [2015.4, 0.5], [2015.45, 0.7], [2015.5, 0.9], [2015.55, 0.6], [2015.6, 0.4],
  [2015.65, 0.8], [2015.7, 1.0], [2015.75, 0.6], [2015.8, 0.7], [2015.85, 0.9], [2015.9, 0.5], [2015.95, 0.8],
  [2016.0, 0.9], [2016.05, 1.1], [2016.1, 0.6], [2016.15, 0.8], [2016.2, 1.0], [2016.25, 0.7], [2016.3, 0.8],
  [2016.35, 0.5], [2016.4, 0.9], [2016.45, 0.6], [2016.5, 0.7], [2016.55, 0.4], [2016.6, 0.8], [2016.65, 0.5],
  [2016.7, 0.6], [2016.75, 0.3], [2016.8, 0.7], [2016.85, 0.4], [2016.9, 0.5], [2016.95, 0.2], [2017.0, 0.6],
  [2017.05, 0.3], [2017.1, 0.4], [2017.15, 0.7], [2017.2, 0.5], [2017.25, 0.2], [2017.3, 0.6], [2017.35, 0.3],
  [2017.4, 0.4], [2017.45, 0.1], [2017.5, 0.5], [2017.55, 0.3], [2017.6, 0.3], [2017.65, 0.6], [2017.7, 0.4],
  [2017.75, 0.1], [2017.8, 0.5], [2017.85, 0.2], [2017.9, 0.3], [2017.95, 0.6], [2018.0, 0.4], [2018.05, 0.1],
  [2018.1, 0.2], [2018.15, 0.5], [2018.2, 0.3], [2018.25, 0.0], [2018.3, 0.2], [2018.35, -0.1], [2018.4, 0.1],
  [2018.45, 0.4], [2018.5, 0.0], [2018.55, -0.3], [2018.6, 0.2], [2018.65, -0.1], [2018.7, 0.1], [2018.75, -0.2],
  [2018.8, 0.0], [2018.85, 0.3], [2018.9, -0.2], [2018.95, 0.1], [2019.0, 0.0], [2019.05, -0.3], [2019.1, -0.1],
  [2019.15, 0.2], [2019.2, -0.3], [2019.25, 0.0], [2019.3, -0.1], [2019.35, -0.5], [2019.4, 0.0], [2019.45, -0.2],
  [2019.5, -0.3], [2019.55, -0.7], [2019.6, -0.1], [2019.65, 0.1], [2019.7, -0.2], [2019.75, -0.5], [2019.8, -0.4],
  [2019.85, -0.1], [2019.9, -0.3], [2019.95, -0.6], [2020.0, -0.2], [2020.05, -0.5], [2020.1, -0.4], [2020.15, -0.1],
  [2020.2, -0.3], [2020.25, -0.7], [2020.3, -0.1], [2020.35, -0.4], [2020.4, -0.2], [2020.45, 0.0], [2020.5, -0.3],
  [2020.55, 0.1], [2020.6, 0.0], [2020.65, -0.2], [2020.7, 0.1], [2020.75, -0.3], [2020.8, -0.1], [2020.85, 0.2],
  [2020.9, 0.0], [2020.95, 0.3], [2021.0, 0.2], [2021.05, -0.1], [2021.1, 0.1], [2021.15, 0.4], [2021.2, 0.3],
  [2021.25, 0.0], [2021.3, 0.1], [2021.35, 0.4], [2021.4, 0.2], [2021.45, -0.1], [2021.5, 0.3], [2021.55, 0.1],
  [2021.6, 0.0], [2021.65, 0.2], [2021.7, 0.2], [2021.75, 0.4], [2021.8, 0.1], [2021.85, -0.2], [2021.9, 0.0],
  [2021.95, 0.3], [2022.0, 0.1], [2022.05, -0.1], [2022.1, -0.1], [2022.15, 0.2], [2022.2, -0.2], [2022.25, 0.1],
  [2022.3, -0.3], [2022.35, 0.0], [2022.4, -0.1], [2022.45, -0.4], [2022.5, -0.2], [2022.55, -0.8], [2022.6, -0.3],
  [2022.65, 0.0], [2022.7, -0.1], [2022.75, -0.4], [2022.8, 0.0], [2022.85, -0.2], [2022.9, 0.1], [2022.95, -0.1],
  [2023.0, 0.2], [2023.05, 0.0], [2023.1, 0.0], [2023.15, 0.3], [2023.2, 0.1], [2023.25, -0.2], [2023.3, 0.2],
  [2023.35, 0.0], [2023.6, 0.3], [2023.65, 0.1], [2023.7, 0.4], [2023.75, 0.1], [2023.8, 0.2], [2023.85, 0.5],
  [2023.9, 0.3], [2023.95, 0.0], [2024.0, 0.4], [2024.05, 0.2], [2024.1, 0.1], [2024.15, 0.3], [2024.2, 0.2],
  [2024.25, -0.1], [2024.3, 0.0], [2024.35, -0.3], [2024.4, -0.1], [2024.45, -0.6], [2024.5, 0.1], [2024.55, -0.3],
  [2024.6, 0.3], [2024.65, 0.0], [2024.7, 0.2], [2024.75, -0.4], [2024.8, 0.1], [2024.85, -1.3], [2024.9, 0.2],
  [2024.95, 0.4], [2019.3, -0.9], [2020.2, -1.0], [2022.5, -1.2], [2024.77, -1.0], [2023.9, -0.9],
];
const gnssHeliportB = [
  [2011.765, 0.4], [2011.815, 0.7], [2011.845, 0.3], [2011.875, 0.8], [2011.915, 0.5], [2011.945, 0.6], [2011.985, 0.2],
  [2012.015, 0.7], [2012.035, 0.5], [2012.065, 0.9], [2012.095, 0.4], [2012.115, 0.6], [2012.145, 0.2], [2012.175, 0.7],
  [2012.215, 0.9], [2012.245, 0.5], [2012.275, 0.3], [2012.315, 0.8], [2012.345, 0.5], [2012.375, 0.6], [2012.415, 0.9],
  [2012.445, 0.5], [2012.475, 0.3], [2012.515, 0.7], [2012.545, 0.2], [2012.575, 0.6], [2012.615, 0.9], [2012.645, 0.3],
  [2012.675, 0.5], [2012.715, 0.8], [2012.745, 0.3], [2012.775, 0.6], [2012.815, 0.9], [2012.845, 0.4], [2012.875, 0.2],
  [2012.915, 0.6], [2012.945, 0.8], [2012.985, 0.5], [2013.015, 0.6], [2013.045, 0.2], [2013.075, 0.8], [2013.115, 0.5],
  [2013.145, 0.2], [2013.175, 0.6], [2013.215, 0.3], [2013.245, 0.8], [2013.275, 0.2],
  [2014.625, 0.5], [2014.675, 0.2], [2014.725, 0.6], [2014.775, 0.4], [2014.825, 0.3], [2014.875, 0.7], [2014.925, 0.5],
  [2014.975, 0.3], [2015.025, 0.6], [2015.075, 0.8], [2015.125, 0.3], [2015.175, 0.7], [2015.225, 0.9], [2015.275, 0.6],
  [2015.325, 0.5], [2015.375, 0.7], [2015.425, 0.9], [2015.475, 0.4], [2015.525, 0.7], [2015.575, 0.8], [2015.625, 0.6],
  [2015.675, 0.5], [2015.725, 0.8], [2015.775, 0.9], [2015.825, 0.5], [2015.875, 0.7], [2015.925, 1.0], [2015.975, 0.6],
  [2016.025, 0.7], [2016.075, 0.8], [2016.125, 1.0], [2016.175, 0.6], [2016.225, 0.8], [2016.275, 0.9], [2016.325, 0.6],
  [2016.375, 0.7], [2016.425, 0.8], [2016.475, 0.5], [2016.525, 0.6], [2016.575, 0.7], [2016.625, 0.4], [2016.675, 0.7],
  [2016.725, 0.5], [2016.775, 0.5], [2016.825, 0.6], [2016.875, 0.3], [2016.925, 0.6], [2016.975, 0.4], [2017.025, 0.5],
  [2017.075, 0.5], [2017.125, 0.3], [2017.175, 0.4], [2017.225, 0.6], [2017.275, 0.4], [2017.325, 0.4], [2017.375, 0.5],
  [2017.425, 0.3], [2017.475, 0.3], [2017.525, 0.4], [2017.575, 0.5], [2017.625, 0.2], [2017.675, 0.4], [2017.725, 0.3],
  [2017.775, 0.4], [2017.825, 0.3], [2017.875, 0.5], [2017.925, 0.4], [2017.975, 0.2], [2018.025, 0.3], [2018.075, 0.4],
  [2018.125, 0.3], [2018.175, 0.1], [2018.225, 0.2], [2018.275, 0.3], [2018.325, 0.0], [2018.375, 0.2], [2018.425, 0.2],
  [2018.475, 0.1], [2018.525, 0.2], [2018.575, 0.0], [2018.625, 0.1], [2018.675, 0.0], [2018.725, -0.1], [2018.775, 0.1],
  [2018.825, -0.1], [2018.875, 0.1], [2018.925, 0.0], [2018.975, -0.1], [2019.025, -0.2], [2019.075, 0.1], [2019.125, -0.2],
  [2019.175, -0.1], [2019.225, -0.1], [2019.275, -0.3], [2019.325, -0.2], [2019.375, -0.3], [2019.425, -0.1],
  [2019.475, -0.4], [2019.525, -0.2], [2019.575, -0.4], [2019.625, -0.2], [2019.675, -0.1], [2019.725, -0.3],
  [2019.775, -0.2], [2019.825, -0.3], [2019.875, -0.5], [2019.925, -0.2], [2019.975, -0.4], [2020.025, -0.3],
  [2020.075, -0.2], [2020.125, -0.6], [2020.175, -0.3], [2020.225, -0.2], [2020.275, -0.4], [2020.325, -0.3],
  [2020.375, -0.1], [2020.425, -0.3], [2020.475, -0.1], [2020.525, -0.2], [2020.575, -0.1], [2020.625, 0.1],
  [2020.675, -0.1], [2020.725, 0.0], [2020.775, 0.1], [2020.825, -0.2], [2020.875, 0.1], [2020.925, 0.2], [2020.975, 0.0],
  [2021.025, 0.1], [2021.075, 0.3], [2021.125, 0.0], [2021.175, 0.2], [2021.225, 0.1], [2021.275, 0.3], [2021.325, 0.2],
  [2021.375, 0.0], [2021.425, 0.3], [2021.475, 0.1], [2021.525, 0.2], [2021.575, 0.3], [2021.625, 0.1], [2021.675, 0.0],
  [2021.725, 0.3], [2021.775, 0.0], [2021.825, 0.2], [2021.875, 0.1], [2021.925, 0.2], [2021.975, -0.1], [2022.025, 0.0],
  [2022.075, 0.1], [2022.125, -0.2], [2022.175, 0.0], [2022.225, -0.1], [2022.275, -0.2], [2022.325, -0.1],
  [2022.375, -0.3], [2022.425, -0.2], [2022.475, -0.1], [2022.525, -0.5], [2022.575, -0.2], [2022.625, -0.3],
  [2022.675, -0.2], [2022.725, 0.0], [2022.775, -0.2], [2022.825, -0.1], [2022.875, 0.0], [2022.925, -0.2], [2022.975, 0.1],
  [2023.025, 0.1], [2023.075, -0.1], [2023.125, 0.2], [2023.175, 0.0], [2023.225, 0.2], [2023.275, 0.1], [2023.325, -0.1],
  [2023.625, 0.2], [2023.675, 0.3], [2023.725, 0.2], [2023.775, 0.3], [2023.825, 0.1], [2023.875, 0.3], [2023.925, 0.2],
  [2023.975, 0.3], [2024.025, 0.1], [2024.075, 0.3], [2024.125, 0.2], [2024.175, 0.0], [2024.225, 0.1], [2024.275, 0.1],
  [2024.325, -0.2], [2024.375, 0.0], [2024.425, -0.2], [2024.475, -0.3], [2024.525, 0.0], [2024.575, 0.1], [2024.625, 0.2],
  [2024.675, -0.1], [2024.725, 0.0], [2024.775, 0.3], [2024.825, -0.2], [2024.875, 0.0], [2024.925, 0.3], [2024.975, 0.1],
];
const gnssKuchinoerabu = [
  [2010.22, 0.1], [2010.23, -0.2], [2010.25, 0.4], [2010.26, -0.4], [2010.28, 0.0], [2010.3, 0.6], [2010.31, -0.6],
  [2010.33, 0.2], [2010.35, -0.1], [2010.36, 0.8], [2010.38, -0.3], [2010.4, 0.3], [2010.41, -0.8], [2010.43, 0.0],
  [2010.45, 0.5], [2010.46, -0.2], [2010.48, 0.7], [2010.5, -0.5], [2010.51, 0.1], [2010.53, 0.4], [2010.55, -0.3],
  [2010.56, 0.6], [2010.58, -1.0], [2010.6, 0.2], [2010.61, -0.1], [2010.63, 0.5], [2010.65, -0.4], [2010.66, 0.8],
  [2010.68, 0.0], [2010.7, 0.3], [2010.71, -0.6], [2010.73, 0.1],
  [2010.83, 0.3], [2010.85, 0.6], [2010.87, 0.0], [2010.89, 0.4], [2010.9, -0.2], [2010.92, 0.7], [2010.94, 0.2],
  [2010.96, 0.5], [2010.98, -0.1], [2011.0, 0.3], [2011.02, 0.6], [2011.04, 0.1], [2011.06, 0.5], [2011.08, -0.3],
  [2011.1, 0.4], [2011.12, 0.0], [2011.14, 0.6], [2011.16, -0.2], [2011.18, 0.3], [2011.2, -0.4], [2011.22, 0.1],
  [2011.24, -0.5], [2011.26, 0.2], [2011.28, -0.6], [2011.3, -0.1], [2011.32, -0.7], [2011.34, 0.0], [2011.36, -0.4],
  [2011.38, -1.0], [2011.4, -0.2], [2011.42, -0.6], [2011.44, 0.1], [2011.46, -0.3], [2011.48, 0.3], [2011.5, -0.5],
  [2011.52, 0.4], [2011.54, 0.0], [2011.56, 0.6], [2011.58, 0.2], [2011.6, 0.8], [2011.61, 2.0], [2011.62, 0.4],
  [2011.64, 1.0], [2011.66, 1.4], [2011.68, 0.5], [2011.7, 0.1],
  [2011.8, -0.3], [2011.9, 0.2], [2012.0, -0.2], [2012.1, 0.9], [2012.2, 0.1], [2012.3, -0.1], [2012.4, 1.3],
  [2012.45, 1.5], [2012.5, -0.5], [2012.55, -1.15], [2012.6, -0.3], [2012.7, 0.2], [2012.8, 0.0], [2012.9, 0.6],
  [2013.0, 0.8], [2013.1, 1.1], [2013.2, -0.4], [2013.27, -0.85], [2013.25, 0.9],
  [2014.62, 1.8], [2014.63, 0.9], [2014.68, 0.2], [2014.73, 1.0], [2014.78, 0.3], [2014.83, 1.2], [2014.88, 0.6],
  [2014.93, -0.1], [2014.98, 1.0], [2015.03, 0.2], [2015.08, 1.3], [2015.13, 0.7], [2015.18, 0.1], [2015.23, 1.1],
  [2015.28, 0.5], [2015.33, 1.4], [2015.38, 0.8], [2015.43, 0.2], [2015.48, 1.2], [2015.53, 0.4], [2015.58, 1.0],
  [2015.63, 0.3], [2015.68, 1.3], [2015.73, 0.5], [2015.78, 1.1], [2015.83, 0.4], [2015.88, 1.2], [2015.93, 0.6],
  [2015.98, 1.0], [2016.03, 0.5], [2016.08, 1.4], [2016.13, 0.7], [2016.18, 1.1], [2016.23, 0.4], [2016.28, 1.2],
  [2016.33, 0.3], [2016.38, 1.0], [2016.43, 0.4], [2016.48, 1.1], [2016.53, 0.2], [2016.58, 0.9], [2016.63, 0.3],
  [2016.68, 1.0], [2016.73, 0.1], [2016.78, 0.8], [2016.83, 0.2], [2016.88, 0.9], [2016.93, 0.0], [2016.98, 0.8],
  [2017.03, 0.1], [2017.08, 0.9], [2017.13, 0.2], [2017.18, 0.7], [2017.23, -0.1], [2017.28, 0.8], [2017.33, 0.0],
  [2017.38, 0.7], [2017.43, -0.2], [2017.48, 0.8], [2017.53, 0.0], [2017.58, 0.6], [2017.63, -0.1], [2017.68, 0.7],
  [2017.73, -0.2], [2017.78, 0.8], [2017.83, -0.1], [2017.88, 0.6], [2017.93, 0.0], [2017.98, 0.7], [2018.03, -0.2],
  [2018.08, 0.5], [2018.13, -0.3], [2018.18, 0.6], [2018.23, -0.2], [2018.28, 0.5], [2018.33, -0.4], [2018.38, 0.4],
  [2018.43, -0.3], [2018.48, 0.5], [2018.53, -0.5], [2018.58, 0.3], [2018.63, -0.4], [2018.68, 0.4], [2018.73, -0.6],
  [2018.78, 0.3], [2018.83, -0.5], [2018.88, 0.4], [2018.93, -0.6], [2018.98, 0.2], [2019.03, -0.7], [2019.08, 0.3],
  [2019.13, -0.6], [2019.18, 0.2], [2019.23, -0.8], [2019.28, 0.1], [2019.33, -0.7], [2019.38, 0.3], [2019.43, -0.6],
  [2019.48, 0.1], [2019.53, -0.9], [2019.58, 0.2], [2019.63, -0.7], [2019.68, 0.0], [2019.73, -0.8], [2019.78, 0.1],
  [2019.83, -0.7], [2019.88, 0.0], [2019.93, -0.9], [2019.98, 0.1], [2020.03, -0.8], [2020.08, -0.1], [2020.13, -0.7],
  [2020.18, 0.1], [2020.23, -0.9], [2020.28, 0.0], [2020.33, -0.6], [2020.38, 0.2], [2020.43, -0.5], [2020.48, 0.3],
  [2020.53, -0.6], [2020.58, 0.4], [2020.63, -0.4], [2020.68, 0.3], [2020.73, -0.5], [2020.78, 0.4], [2020.83, -0.3],
  [2020.88, 0.5], [2020.93, -0.3], [2020.98, 0.6], [2021.03, -0.2], [2021.08, 0.5], [2021.13, -0.2], [2021.18, 0.7],
  [2021.23, -0.1], [2021.28, 0.5], [2021.33, -0.3], [2021.38, 0.6], [2021.43, -0.2], [2021.48, 0.5], [2021.53, -0.3],
  [2021.58, 0.6], [2021.63, -0.2], [2021.68, 0.7], [2021.73, -0.1], [2021.78, 0.5], [2021.83, -0.4], [2021.88, 0.5],
  [2021.93, -0.3], [2021.98, 0.4], [2022.03, -0.4], [2022.08, 0.4], [2022.13, -0.5], [2022.18, 0.3], [2022.23, -0.6],
  [2022.28, 0.3], [2022.33, -0.7], [2022.38, 0.2], [2022.43, -0.9], [2022.48, 0.2], [2022.53, -1.0], [2022.58, 0.1],
  [2022.63, -0.7], [2022.68, 0.3], [2022.73, -0.6], [2022.78, 0.3], [2022.83, -0.5], [2022.88, 0.4], [2022.93, -0.4],
  [2022.98, 0.5], [2023.03, -0.3], [2023.08, 0.6], [2023.13, -0.3], [2023.18, 0.5], [2023.23, -0.4], [2023.28, 0.4],
  [2023.33, -0.2], [2023.62, 0.6], [2023.67, -0.2], [2023.72, 0.7], [2023.77, -0.1], [2023.82, 0.8], [2023.87, -0.2],
  [2023.92, 0.7], [2023.97, -0.3], [2024.02, 0.8], [2024.07, -0.2], [2024.12, 0.6], [2024.17, -0.3], [2024.22, 0.5],
  [2024.27, -0.5], [2024.32, 0.4], [2024.37, -0.6], [2024.42, 0.3], [2024.47, -0.8], [2024.52, 0.4], [2024.57, -0.6],
  [2024.62, 0.6], [2024.67, -0.5], [2024.72, 0.5], [2024.77, -0.9], [2024.82, 0.6], [2024.87, -0.4], [2024.92, 0.8],
  [2014.65, 1.6], [2015.6, 1.5], [2016.2, 1.6], [2019.2, -1.2], [2022.5, -1.4], [2024.8, -1.6],
];
const gnssKuchinoerabuB = [
  [2010.215, -0.3], [2010.235, 0.3], [2010.255, -0.1], [2010.275, 0.5], [2010.295, -0.3], [2010.315, 0.1], [2010.335, 0.5],
  [2010.355, -0.5], [2010.375, 0.2], [2010.395, -0.2], [2010.415, 0.6], [2010.435, -0.4], [2010.455, 0.1], [2010.475, -0.6],
  [2010.495, 0.4], [2010.515, -0.2], [2010.535, 0.0], [2010.555, 0.5], [2010.575, -0.6], [2010.595, 0.3], [2010.615, -0.3],
  [2010.635, 0.1], [2010.655, 0.6], [2010.675, -0.3], [2010.695, 0.0], [2010.715, 0.4], [2010.735, -0.2],
  [2010.845, 0.0], [2010.865, 0.5], [2010.885, 0.1], [2010.905, 0.6], [2010.925, -0.1], [2010.945, 0.4], [2010.965, 0.1],
  [2010.985, 0.5], [2011.005, 0.0], [2011.025, 0.4], [2011.045, -0.2], [2011.065, 0.2], [2011.085, 0.6], [2011.105, -0.1],
  [2011.125, 0.3], [2011.145, 0.1], [2011.165, 0.5], [2011.185, -0.3], [2011.205, 0.2], [2011.225, -0.2], [2011.245, 0.3],
  [2011.265, -0.4], [2011.285, 0.0], [2011.305, -0.5], [2011.325, 0.2], [2011.345, -0.3], [2011.365, -0.8],
  [2011.385, -0.3], [2011.405, 0.1], [2011.425, -0.4], [2011.445, -0.1], [2011.465, 0.2], [2011.485, -0.2],
  [2011.505, 0.1], [2011.525, -0.1], [2011.545, 0.5], [2011.565, 0.3], [2011.585, 0.6], [2011.605, 0.4], [2011.625, 0.8],
  [2011.645, 0.6], [2011.665, 0.3], [2011.685, 0.7], [2011.705, 0.5],
  [2014.605, 0.6], [2014.655, 1.2], [2014.705, 0.8], [2014.755, -0.2], [2014.805, 1.1], [2014.855, 0.0], [2014.905, 0.9],
  [2014.955, 0.4], [2015.005, 1.1], [2015.055, 0.0], [2015.105, 0.6], [2015.155, 1.2], [2015.205, 0.4], [2015.255, 0.9],
  [2015.305, 0.2], [2015.355, 1.1], [2015.405, 0.6], [2015.455, 1.3], [2015.505, 0.3], [2015.555, 1.0], [2015.605, 0.7],
  [2015.655, 0.1], [2015.705, 1.2], [2015.755, 0.4], [2015.805, 1.0], [2015.855, 0.2], [2015.905, 1.1], [2015.955, 0.3],
  [2016.005, 1.2], [2016.055, 0.2], [2016.105, 0.9], [2016.155, 1.3], [2016.205, 0.5], [2016.255, 1.0], [2016.305, 0.6],
  [2016.355, 1.2], [2016.405, 0.2], [2016.455, 0.8], [2016.505, 1.0], [2016.555, 0.1], [2016.605, 0.7], [2016.655, 1.1],
  [2016.705, 0.3], [2016.755, 0.9], [2016.805, -0.1], [2016.855, 0.7], [2016.905, 0.9], [2016.955, 0.2], [2017.005, 0.8],
  [2017.055, -0.2], [2017.105, 0.6], [2017.155, 1.0], [2017.205, 0.1], [2017.255, 0.7], [2017.305, -0.1], [2017.355, 0.6],
  [2017.405, 0.9], [2017.455, 0.0], [2017.505, 0.6], [2017.555, -0.3], [2017.605, 0.5], [2017.655, 0.9], [2017.705, 0.0],
  [2017.755, 0.6], [2017.805, -0.2], [2017.855, 0.4], [2017.905, 0.8], [2017.955, -0.1], [2018.005, 0.5], [2018.055, -0.4],
  [2018.105, 0.4], [2018.155, 0.7], [2018.205, -0.3], [2018.255, 0.3], [2018.305, -0.5], [2018.355, 0.3], [2018.405, 0.6],
  [2018.455, -0.4], [2018.505, 0.2], [2018.555, -0.6], [2018.605, 0.3], [2018.655, 0.5], [2018.705, -0.5], [2018.755, 0.2],
  [2018.805, -0.7], [2018.855, 0.1], [2018.905, 0.4], [2018.955, -0.6], [2019.005, 0.1], [2019.055, -0.8], [2019.105, 0.0],
  [2019.155, 0.3], [2019.205, -0.7], [2019.255, 0.0], [2019.305, -0.8], [2019.355, -0.1], [2019.405, 0.2], [2019.455, -0.8],
  [2019.505, -0.1], [2019.555, -1.0], [2019.605, -0.2], [2019.655, 0.2], [2019.705, -0.9], [2019.755, -0.2],
  [2019.805, -1.0], [2019.855, -0.3], [2019.905, 0.1], [2019.955, -0.9], [2020.005, -0.3], [2020.055, -1.0],
  [2020.105, -0.2], [2020.155, 0.1], [2020.205, -0.8], [2020.255, -0.1], [2020.305, -0.9], [2020.355, 0.0], [2020.405, 0.3],
  [2020.455, -0.7], [2020.505, 0.1], [2020.555, -0.5], [2020.605, 0.2], [2020.655, 0.5], [2020.705, -0.5], [2020.755, 0.2],
  [2020.805, -0.4], [2020.855, 0.3], [2020.905, 0.6], [2020.955, -0.3], [2021.005, 0.3], [2021.055, -0.3], [2021.105, 0.4],
  [2021.155, 0.7], [2021.205, -0.2], [2021.255, 0.3], [2021.305, -0.4], [2021.355, 0.4], [2021.405, 0.7], [2021.455, -0.3],
  [2021.505, 0.4], [2021.555, -0.4], [2021.605, 0.3], [2021.655, 0.6], [2021.705, -0.3], [2021.755, 0.3], [2021.805, -0.5],
  [2021.855, 0.2], [2021.905, 0.5], [2021.955, -0.4], [2022.005, 0.2], [2022.055, -0.6], [2022.105, 0.1], [2022.155, 0.4],
  [2022.205, -0.5], [2022.255, 0.0], [2022.305, -0.8], [2022.355, 0.0], [2022.405, 0.3], [2022.455, -0.7], [2022.505, -0.1],
  [2022.555, -1.1], [2022.605, -0.2], [2022.655, 0.2], [2022.705, -0.8], [2022.755, 0.0], [2022.805, -0.6], [2022.855, 0.1],
  [2022.905, 0.4], [2022.955, -0.5], [2023.005, 0.2], [2023.055, -0.4], [2023.105, 0.3], [2023.155, 0.6], [2023.205, -0.3],
  [2023.255, 0.2], [2023.305, -0.5], [2023.605, 0.5], [2023.655, -0.3], [2023.705, 0.5], [2023.755, 0.8], [2023.805, -0.1],
  [2023.855, 0.6], [2023.905, -0.4], [2023.955, 0.6], [2024.005, 0.8], [2024.055, -0.3], [2024.105, 0.5], [2024.155, -0.4],
  [2024.205, 0.4], [2024.255, 0.6], [2024.305, -0.6], [2024.355, 0.2], [2024.405, -0.7], [2024.455, 0.3], [2024.505, 0.5],
  [2024.555, -0.7], [2024.605, 0.4], [2024.655, -0.6], [2024.705, 0.4], [2024.755, 0.7], [2024.805, -0.8], [2024.855, 0.5],
  [2024.905, -0.5], [2024.955, 0.6],
];

// ⑤-2 GNSS baseline change (cm)
const gnssShichikama = [
  [2006.89, 0.2], [2006.92, 0.5], [2006.95, -0.4], [2006.98, 0.8], [2007.02, 0.6], [2007.05, 1.0], [2007.08, 0.7],
  [2007.13, 0.9], [2007.13, 2.4], [2007.17, 1.1], [2007.2, 0.8], [2007.25, 1.0], [2007.3, 1.2], [2007.33, 0.8],
  [2007.37, -2.2], [2007.4, 2.9], [2007.42, 1.0], [2007.46, 3.0], [2007.5, 1.1], [2007.53, 4.2], [2007.55, 0.9],
  [2007.6, 2.9], [2007.62, 1.0], [2007.66, 1.3], [2007.69, 4.3], [2007.72, 2.4], [2007.75, 0.9], [2007.8, 1.1],
  [2007.85, 0.8], [2007.9, 1.0], [2007.95, 0.9], [2008.0, 1.1], [2008.05, 1.0], [2008.1, 0.8], [2008.15, 1.2],
  [2008.2, 0.9], [2008.25, 1.1], [2008.29, 3.1], [2008.3, 1.0], [2008.35, 2.1], [2008.38, 0.7], [2008.42, -0.4],
  [2008.45, 0.6], [2008.48, 1.0], [2008.52, 0.8], [2008.55, 0.5], [2008.58, 1.0], [2008.62, 0.8], [2008.65, 1.5],
  [2008.68, 2.4], [2008.72, 3.4], [2008.75, 4.1], [2008.8, 4.6], [2008.85, 4.9], [2008.9, 5.1], [2008.95, 5.2],
  [2009.0, 5.3], [2009.05, 5.4], [2009.1, 5.2], [2009.15, 5.5], [2009.2, 5.3], [2009.25, 5.4], [2009.3, 5.2],
  [2009.35, 5.5], [2009.4, 4.2], [2009.42, 5.3], [2009.45, 5.4], [2009.5, 5.2], [2009.55, 5.5], [2009.6, 5.4],
  [2009.65, 5.6], [2009.7, 5.5], [2009.75, 5.7], [2009.8, 5.6], [2009.85, 5.8], [2009.9, 5.7], [2009.95, 5.9],
  [2010.0, 5.8], [2010.05, 6.0], [2010.1, 5.9], [2010.15, 6.1], [2010.2, 6.0], [2010.25, 6.2], [2010.32, 4.5],
  [2010.3, 6.1], [2010.35, 6.0], [2010.4, 6.2], [2010.45, 6.0], [2010.5, 5.9], [2010.55, 6.1], [2010.6, 6.0],
  [2010.65, 6.2], [2010.7, 6.3], [2010.75, 6.2], [2010.8, 6.4], [2010.85, 6.5], [2010.9, 6.4], [2010.95, 6.6],
  [2011.0, 6.5], [2011.05, 6.7], [2011.1, 6.8], [2011.15, 6.7], [2011.2, 6.9], [2011.25, 7.0], [2011.3, 7.1],
  [2011.35, 7.3], [2011.4, 7.6], [2011.45, 7.9], [2011.5, 8.3], [2011.55, 8.7], [2011.6, 9.1], [2011.65, 9.5],
  [2011.7, 9.8], [2011.75, 10.0], [2011.8, 10.2], [2011.85, 10.3], [2011.9, 10.5], [2011.95, 10.4], [2012.0, 10.6],
  [2012.05, 10.7], [2012.1, 10.8], [2012.15, 10.7], [2012.2, 10.9], [2012.25, 11.0], [2012.3, 11.1], [2012.35, 11.0],
  [2012.4, 11.2], [2012.45, 11.3], [2012.5, 11.2], [2012.55, 11.4], [2012.6, 11.3], [2012.65, 11.2], [2012.95, 11.1],
  [2013.0, 11.3], [2013.05, 11.2], [2013.1, 11.5], [2013.15, 11.6], [2013.2, 11.8], [2013.25, 11.9], [2013.3, 12.1],
  [2013.35, 12.2], [2013.4, 12.3], [2013.45, 12.1], [2013.5, 12.2], [2013.55, 12.0], [2013.6, 12.1], [2013.65, 11.9],
  [2013.7, 12.2], [2013.75, 12.0], [2013.8, 11.8], [2013.85, 11.9], [2013.9, 12.1], [2013.95, 11.8], [2014.0, 12.0],
  [2014.05, 11.9], [2014.1, 12.1], [2014.15, 12.0], [2014.2, 12.1], [2014.25, 12.0], [2014.3, 12.2], [2014.35, 12.1],
  [2014.4, 12.3], [2014.45, 12.2], [2014.5, 12.5], [2014.55, 12.4], [2014.57, 12.6],
];
const gnssShichikamaB = [
  [2006.915, 0.0], [2006.965, 0.3], [2007.015, 0.9], [2007.065, 0.5], [2007.115, 1.2], [2007.165, 0.6], [2007.215, 1.3],
  [2007.265, 0.7], [2007.315, 0.9], [2007.365, 1.2], [2007.415, 0.6], [2007.465, 1.3], [2007.515, 0.7], [2007.565, 1.2],
  [2007.615, 0.7], [2007.665, 0.9], [2007.715, 1.4], [2007.765, 0.6], [2007.815, 1.3], [2007.865, 0.7], [2007.915, 1.2],
  [2007.965, 0.6], [2008.015, 1.3], [2008.065, 0.7], [2008.115, 1.1], [2008.165, 0.8], [2008.215, 1.3], [2008.265, 0.7],
  [2008.315, 1.2], [2008.365, 0.9], [2008.415, 1.1], [2008.465, 0.8], [2008.505, 0.0], [2008.515, 1.2], [2008.565, 0.7],
  [2008.595, 0.2], [2008.615, 1.1], [2008.645, 1.0], [2008.665, 2.0], [2008.705, 2.9], [2008.735, 3.8], [2008.775, 4.4],
  [2008.825, 4.7], [2008.875, 5.2], [2008.925, 4.9], [2008.975, 5.5], [2009.025, 5.1], [2009.075, 5.6], [2009.125, 5.0],
  [2009.175, 5.3], [2009.225, 5.6], [2009.275, 5.0], [2009.325, 5.6], [2009.375, 5.1], [2009.425, 5.0], [2009.475, 5.6],
  [2009.525, 5.1], [2009.575, 5.3], [2009.625, 5.7], [2009.675, 5.3], [2009.725, 5.8], [2009.775, 5.4], [2009.825, 5.6],
  [2009.875, 6.0], [2009.925, 5.6], [2009.975, 6.1], [2010.025, 5.7], [2010.075, 6.2], [2010.125, 5.8], [2010.175, 6.3],
  [2010.225, 5.9], [2010.275, 6.3], [2010.325, 5.9], [2010.375, 6.3], [2010.425, 5.9], [2010.475, 6.2], [2010.525, 5.8],
  [2010.575, 6.2], [2010.625, 5.9], [2010.675, 6.4], [2010.725, 6.1], [2010.775, 6.5], [2010.825, 6.3], [2010.875, 6.7],
  [2010.925, 6.3], [2010.975, 6.8], [2011.025, 6.5], [2011.075, 6.9], [2011.125, 6.6], [2011.175, 7.0], [2011.225, 6.8],
  [2011.275, 7.3], [2011.325, 7.1], [2011.375, 7.5], [2011.425, 7.7], [2011.475, 8.2], [2011.525, 8.5], [2011.575, 9.0],
  [2011.625, 9.3], [2011.675, 9.7], [2011.725, 9.9], [2011.775, 10.2], [2011.825, 10.1], [2011.875, 10.5], [2011.925, 10.3],
  [2011.975, 10.6], [2012.025, 10.5], [2012.075, 10.9], [2012.125, 10.6], [2012.175, 11.0], [2012.225, 10.8],
  [2012.275, 11.2], [2012.325, 10.9], [2012.375, 11.3], [2012.425, 11.1], [2012.475, 11.4], [2012.525, 11.1],
  [2012.575, 11.5], [2012.625, 11.1], [2012.675, 11.4], [2012.925, 11.3], [2012.975, 11.0], [2013.025, 11.4],
  [2013.075, 11.3], [2013.125, 11.7], [2013.175, 11.5], [2013.225, 12.0], [2013.275, 11.8], [2013.325, 12.3],
  [2013.375, 12.0], [2013.425, 12.4], [2013.475, 12.0], [2013.525, 12.3], [2013.575, 11.9], [2013.625, 12.2],
  [2013.675, 11.8], [2013.725, 12.1], [2013.775, 11.8], [2013.825, 12.0], [2013.875, 11.7], [2013.925, 12.0],
  [2013.975, 12.1], [2014.025, 11.8], [2014.075, 12.2], [2014.125, 11.9], [2014.175, 12.2], [2014.225, 11.9],
  [2014.275, 12.1], [2014.325, 11.9], [2014.375, 12.2], [2014.425, 12.1], [2014.475, 12.4], [2014.525, 12.3],
  [2014.565, 12.8],
];

// ---------- layout ----------
const GRID_LEFT = 66;
const GRID_WIDTH = 1061;
const GRID_HEIGHT = 137;
const PANEL_TOPS = [45, 270, 494, 718, 943, 1167, 1389, 1613];

const ERUPT_PATH = "M1,20 L9,7 L17,20 Z M9,7 C11,3 15,1 20,0 L19,3 C15,4 12,6 10,9 Z";
echarts.graphic.registerShape("eruptIcon", echarts.graphic.extendPath(ERUPT_PATH, {}) as any);

const monthX = (year: number, month: number) => year + (month - 0.5) / 12;
function monthlySeries(startYear: number, startMonth: number, values: number[]) {
  return values.map((v, i) => {
    const m = startMonth - 1 + i;
    return [monthX(startYear + Math.floor(m / 12), (m % 12) + 1), v];
  });
}

function xAxisPair(gridIndex: number) {
  const base = {
    type: "value", gridIndex, min: YEAR_MIN, max: YEAR_MAX, position: "bottom",
    axisLine: { show: false, onZero: false },
  };
  return [
    {
      ...base, interval: 1,
      axisTick: { show: true, length: 11, lineStyle: { color: "#000", width: 1.5 } },
      axisLabel: { show: false }, splitLine: { show: false },
    },
    {
      ...base,
      axisTick: { show: true, customValues: LABEL_YEARS, length: 30, lineStyle: { color: "#000", width: 1.5 } },
      axisLabel: {
        show: true, customValues: LABEL_YEARS, formatter: (v: number) => String(Math.round(v)),
        align: "left", margin: 17, padding: [0, 0, 0, 2], fontFamily: MONO, fontSize: 14, color: "#000",
      },
      splitLine: { show: true, showMinLine: false, showMaxLine: false, lineStyle: { color: "#c4c4c4", width: 1.5 } },
    },
  ];
}

const Y_CFG: any[] = [
  { type: "value", min: 0, max: 2000, interval: 500 },
  { type: "value", min: 0, max: 1600, interval: 200 },
  { type: "log", min: 10, max: 1000, logBase: 10 },
  { type: "log", min: 10, max: 10000, logBase: 10 },
  { type: "value", min: 0, max: 600, interval: 100 },
  { type: "log", min: 10, max: 10000, logBase: 10 },
  { type: "value", min: -2, max: 3, interval: 1 },
  { type: "value", min: -3, max: 18, interval: 3 },
];

function yAxisFor(gridIndex: number) {
  return {
    ...Y_CFG[gridIndex], gridIndex,
    axisLine: { show: false, onZero: false },
    axisTick: { show: true, length: 11, lineStyle: { color: "#000", width: 1.5 } },
    axisLabel: { margin: 17, fontFamily: MONO, fontSize: 14, color: "#000", formatter: (v: number) => String(Math.round(v)) },
    splitLine: { show: true, showMinLine: false, showMaxLine: false, lineStyle: { color: "#c4c4c4", width: 1.5 } },
  };
}

function txt(x: number, y: number, text: string, o: any = {}) {
  return {
    type: "text", x, y, z: 120, silent: true,
    style: {
      text, fill: o.fill || "#000", fontSize: o.size || 14, fontFamily: o.family || JP,
      fontWeight: o.weight || "normal", align: o.align || "left", verticalAlign: "middle",
    },
  };
}

function buildOption() {
  const grids = PANEL_TOPS.map((top) => ({ left: GRID_LEFT, width: GRID_WIDTH, top, height: GRID_HEIGHT, show: false }));
  const xAxes: any[] = [];
  const yAxes: any[] = [];
  PANEL_TOPS.forEach((_, i) => { xAxes.push(...xAxisPair(i)); yAxes.push(yAxisFor(i)); });
  const on = (i: number) => ({ xAxisIndex: 2 * i, yAxisIndex: i });

  const openCircle = (color: string, size = 8) => ({
    type: "scatter", symbol: "circle", symbolSize: size,
    itemStyle: { color: "rgba(0,0,0,0)", borderColor: color, borderWidth: 1.6 },
  });

  const plumeMain = [
    ...plumeEarly.map(([y, m, v]) => [monthX(y, m), v]),
    ...monthlySeries(2008, 9, plumeShindakeA),
    ...monthlySeries(2014, 1, plumeShindakeB),
  ];
  const quakeTotal = monthlySeries(2002, 1, [...quakeTotal2002to2009, ...quakeTotal2010to2017, ...quakeTotal2018to2024]);
  const tremor = tremorMinutes.map(([k, v]) => {
    const [y, m] = k.split("-").map(Number);
    return [monthX(y, m), v];
  });
  const gapArea = { silent: true, itemStyle: { color: "#d4d4d4" }, data: [[{ xAxis: 2024.37 }, { xAxis: YEAR_MAX }]] };

  const series: any[] = [
    // ①
    { type: "bar", ...on(0), data: plumeMain, barWidth: 4.3, itemStyle: { color: "#000" } },
    { type: "bar", ...on(0), data: monthlySeries(2023, 8, plumeFurudake), barWidth: 4.3, barGap: "-100%", itemStyle: { color: "#ff0000" } },
    { type: "scatter", ...on(0), data: glowMarks.map((d) => ({ value: [d[0], d[1]], symbolSize: [d[2], d[3]] })), symbol: "circle", itemStyle: { color: "#f5e600" }, z: 5 },
    { type: "scatter", ...on(0), data: eruptionMarks, symbol: "path://" + ERUPT_PATH, symbolSize: [11, 11], itemStyle: { color: "#8c8c8c", borderColor: "#222", borderWidth: 0.6 }, z: 6 },
    { type: "scatter", ...on(0), data: eruptionMarksDark, symbol: "path://" + ERUPT_PATH, symbolSize: [11, 11], itemStyle: { color: "#3a3a3a", borderColor: "#111", borderWidth: 0.6 }, z: 6 },
    { type: "scatter", ...on(0), data: explosionMarks, symbol: "path://" + ERUPT_PATH, symbolSize: [12, 12], itemStyle: { color: "#ff0000", borderColor: "#600", borderWidth: 0.6 }, z: 7 },
    // ②-1
    { type: "bar", ...on(1), data: quakeTotal, barWidth: 4.3, itemStyle: { color: "#0000ff" } },
    { type: "bar", ...on(1), data: monthlySeries(2017, 8, quakeFurudake), barWidth: 4.3, barGap: "-100%", itemStyle: { color: "#ff0000" } },
    // ②-2
    { ...openCircle("#0000ff"), ...on(2), data: amp2Shindake, markArea: gapArea },
    { ...openCircle("#ff0000"), ...on(2), data: amp2Furudake },
    // ②-3
    { ...openCircle("#0000ff"), ...on(3), data: [...amp3Shindake, ...amp3ShindakeLow], markArea: gapArea },
    { ...openCircle("#ff0000"), ...on(3), data: amp3Furudake },
    { type: "scatter", ...on(3), data: amp3Largest, symbol: "path://M10,0 L12.9,7 L20,7.6 L14.6,12.3 L16.2,19.5 L10,15.6 L3.8,19.5 L5.4,12.3 L0,7.6 L7.1,7 Z", symbolSize: 12, itemStyle: { color: "#fff", borderColor: "#0000ff", borderWidth: 1.2 }, z: 8, clip: false },
    // ③
    { type: "bar", ...on(4), data: tremor, barWidth: 4.3, itemStyle: { color: "#000" } },
    // ④
    {
      type: "custom", ...on(5), data: so2Range, z: 3,
      renderItem: (_p: any, api: any) => {
        const x = api.value(0);
        const hi = api.coord([x, api.value(2)]);
        const lo = api.coord([x, api.value(1)]);
        const w = 5;
        const st = { stroke: "#000", lineWidth: 1.1 };
        return {
          type: "group", children: [
            { type: "line", shape: { x1: hi[0], y1: hi[1], x2: lo[0], y2: lo[1] }, style: st },
            { type: "line", shape: { x1: hi[0] - w, y1: hi[1], x2: hi[0] + w, y2: hi[1] }, style: st },
            { type: "line", shape: { x1: lo[0] - w, y1: lo[1], x2: lo[0] + w, y2: lo[1] }, style: st },
          ],
        };
      },
    },
    { type: "scatter", ...on(5), data: [...so2MeanLater, ...so2Mean], symbol: "circle", symbolSize: 12, itemStyle: { color: "#bdbdbd", borderColor: "#333", borderWidth: 1 }, z: 4 },
    { type: "scatter", ...on(5), data: so2BelowLimit.map((x) => [x, 10]), symbol: "path://M0,1.5 L1.5,0 L5,3.5 L8.5,0 L10,1.5 L6.5,5 L10,8.5 L8.5,10 L5,6.5 L1.5,10 L0,8.5 L3.5,5 Z", symbolSize: 7, itemStyle: { color: "#000" }, z: 5, clip: false },
    // ⑤-1
    { type: "scatter", ...on(6), data: [...gnssKuchinoerabu, ...gnssKuchinoerabuB], symbol: "circle", symbolSize: 4.5, itemStyle: { color: "#ff0000" } },
    { type: "scatter", ...on(6), data: [...gnssHeliport, ...gnssHeliportB], symbol: "circle", symbolSize: 5, itemStyle: { color: "#000" } },
    // ⑤-2
    { ...openCircle("#000", 9), ...on(7), data: [...gnssShichikama, ...gnssShichikamaB], itemStyle: { color: "rgba(0,0,0,0)", borderColor: "#000", borderWidth: 1.4 } },
  ];

  // ---------- texts and frames ----------
  const g: any[] = [];
  PANEL_TOPS.forEach((top) => {
    g.push({ type: "rect", z: 110, silent: true, shape: { x: GRID_LEFT, y: top, width: GRID_WIDTH, height: GRID_HEIGHT }, style: { fill: "none", stroke: "#000", lineWidth: 2.2 } });
    g.push(txt(1150, Math.min(top + GRID_HEIGHT + 26, 1771), "年", { size: 15 }));
  });
  const titles = [
    "① 火口縁上の噴煙の高さ（日最高）",
    "② ー1 火山性地震の月別回数",
    "② ー2 火山性地震の最大振幅（新岳西山麓UD成分）",
    "② ー3 火山性地震の最大振幅（新岳西山麓UD成分）",
    "③ 火山性微動の月別積算時間",
    "④  火山ガス（二酸化硫黄）の放出量",
    "⑤-1 湯向ーヘリポート（基線長 5186m）、湯向ー口永良部島（国）（基線長 4294m）",
    "⑤-2 七釜ーSDW（産）（基線長 1239m）",
  ];
  const units = ["m", "回", "μm/s", "μm/s", "分", "ton/day", "cm", "cm"];
  const unitSizes = [9, 11, 11, 11, 12, 11, 10, 10];
  titles.forEach((t, i) => {
    const y = PANEL_TOPS[i] - 17;
    g.push(txt(71, y, t, { size: 24 }));
    g.push(txt(60, y + 2, units[i], { size: unitSizes[i], align: "right" }));
  });
  const NOTE = "※2017年8月より古岳の地震を赤色で表示";
  g.push(txt(1126, 258, NOTE, { size: 15, align: "right" }));
  g.push(txt(1126, 463, NOTE, { size: 14, align: "right" }));
  g.push(txt(1126, 482, "※※2010年8月～", { size: 14, align: "right" }));
  g.push(txt(1126, 685, NOTE, { size: 14, align: "right" }));
  g.push(txt(1126, 704, "※※2010年8月～", { size: 14, align: "right" }));
  g.push(txt(1126, 1156, "東京大学大学院理学研究科、京都大学防災研究所、屋久島町及び気象庁が実施", { size: 15.3, align: "right" }));

  // in-plot labels
  g.push(txt(184, 67, "2004 年３月 10 日観測開始", { size: 20 }));
  g.push(txt(99, 98, "新岳火口", { size: 21, weight: "bold" }));
  g.push(txt(99, 129, "古岳火口", { size: 21, weight: "bold", fill: "#ff0000" }));
  const quakeLabels = [[83, 287, 316], [88, 519, 546], [81, 737, 765]];
  quakeLabels.forEach(([x, y1, y2]) => {
    g.push(txt(x, y1, "新岳＋新岳西山麓＋古岳付近", { size: 21, weight: "bold", fill: "#0000ff" }));
    g.push(txt(x, y2, "古岳付近", { size: 21, weight: "bold", fill: "#ff0000" }));
  });
  g.push(txt(89, 1411, "湯向—ヘリポート", { size: 21, weight: "bold" }));
  g.push(txt(89, 1438, "湯向—口永良部島（国）", { size: 21, weight: "bold", fill: "#ff0000" }));
  // missing-data band captions
  [[543, 573], [762, 792]].forEach(([a, b]) => {
    g.push(txt(1111, a, "欠", { size: 17, align: "center" }));
    g.push(txt(1111, b, "測", { size: 17, align: "center" }));
  });

  // legend ①
  g.push({ type: "rect", z: 110, silent: true, shape: { x: 746, y: 9, width: 380, height: 31 }, style: { fill: "#fff", stroke: "#000", lineWidth: 2 } });
  g.push({ type: "line", z: 120, silent: true, shape: { x1: 764, y1: 25, x2: 794, y2: 25 }, style: { stroke: "#8c8c8c", lineWidth: 2 } });
  g.push(txt(808, 25, "連続噴火", { size: 16.5 }));
  g.push({ type: "eruptIcon", z: 120, silent: true, x: 891, y: 20, scaleX: 0.5, scaleY: 0.5, style: { fill: "#8c8c8c", stroke: "#222", lineWidth: 1 } });
  g.push(txt(910, 25, "噴火", { size: 16.5 }));
  g.push({ type: "eruptIcon", z: 120, silent: true, x: 962, y: 20, scaleX: 0.5, scaleY: 0.5, style: { fill: "#ff0000", stroke: "#600", lineWidth: 1 } });
  g.push(txt(978, 25, "爆発", { size: 16.5 }));
  g.push({ type: "polygon", z: 120, silent: true, shape: { points: [[1041, 21], [1045, 25], [1041, 29], [1037, 25]] }, style: { fill: "#f5e600" } });
  g.push(txt(1053, 25, "火映", { size: 16.5 }));

  // legend ④
  g.push({ type: "rect", z: 110, silent: true, shape: { x: 1133, y: 1167, width: 100, height: 134 }, style: { fill: "#fff", stroke: "#000", lineWidth: 2 } });
  const lg = { stroke: "#555", lineWidth: 1.2 };
  g.push({ type: "line", z: 120, silent: true, shape: { x1: 1152, y1: 1179, x2: 1152, y2: 1241 }, style: lg });
  g.push({ type: "line", z: 120, silent: true, shape: { x1: 1147, y1: 1179, x2: 1157, y2: 1179 }, style: lg });
  g.push({ type: "line", z: 120, silent: true, shape: { x1: 1147, y1: 1241, x2: 1157, y2: 1241 }, style: lg });
  g.push({ type: "circle", z: 121, silent: true, shape: { cx: 1152, cy: 1210, r: 6 }, style: { fill: "#000" } });
  g.push(txt(1167, 1180, "最大値", { size: 14 }));
  g.push(txt(1167, 1210, "平均値", { size: 14 }));
  g.push(txt(1167, 1242, "最小値", { size: 14 }));
  g.push(txt(1153, 1271, "×", { size: 15, weight: "bold", align: "center" }));
  g.push(txt(1167, 1269, "検出限界", { size: 13.5 }));
  g.push(txt(1167, 1287, "未満", { size: 13.5 }));

  return {
    animation: false,
    backgroundColor: "#fff",
    grid: grids,
    xAxis: xAxes,
    yAxis: yAxes,
    series,
    graphic: { elements: g },
  };
}

export default function App() {
  const ref = useRef<HTMLDivElement>(null);
  useEffect(() => {
    if (!ref.current) return;
    const chart = echarts.init(ref.current, undefined, { renderer: "svg", width: 1237, height: 1781 });
    chart.setOption(buildOption() as any);
    return () => chart.dispose();
  }, []);
  return <div ref={ref} style={{ position: "absolute", left: 0, top: 0, width: 1237, height: 1781, background: "#fff" }} />;
}
